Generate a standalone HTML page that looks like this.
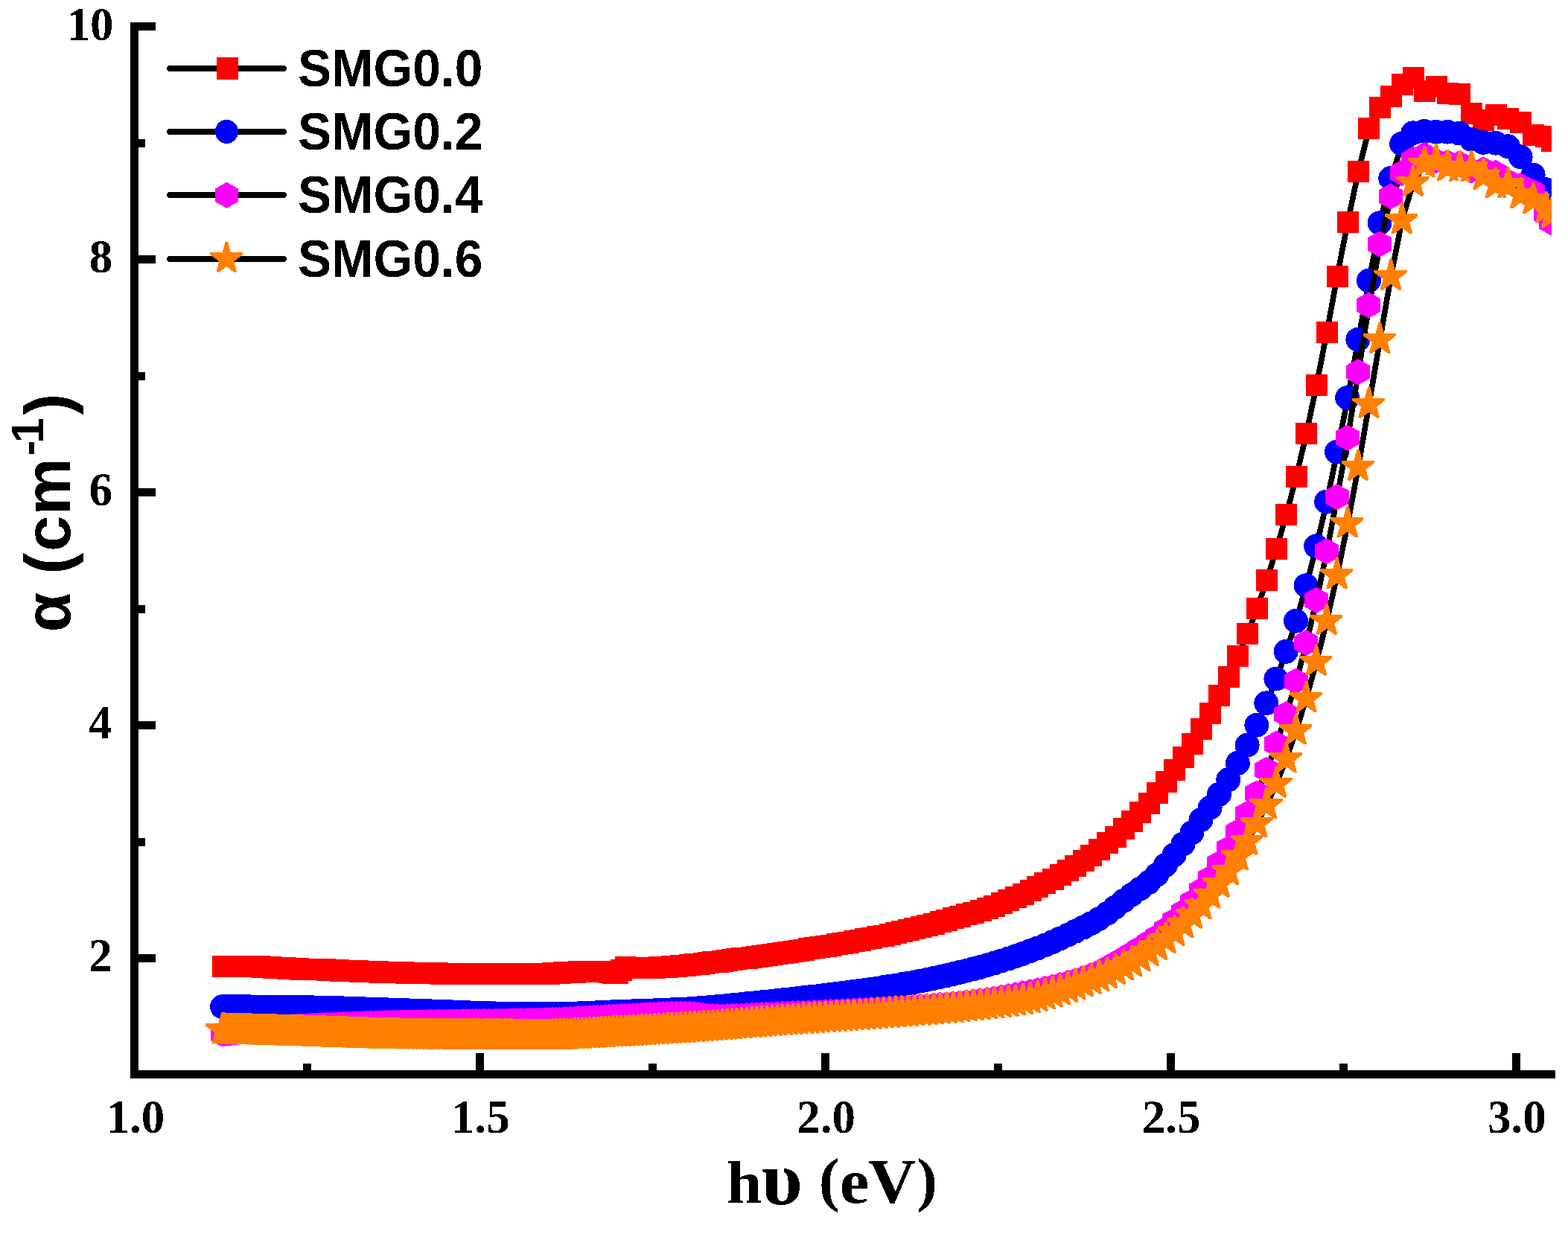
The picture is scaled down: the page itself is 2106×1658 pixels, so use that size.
<!DOCTYPE html>
<html lang="en"><head><meta charset="utf-8"><title>Absorption coefficient vs photon energy</title>
<style>html,body{margin:0;padding:0;background:#fff}body{width:2106px;height:1658px;overflow:hidden}svg{display:block}text{fill:#000;font-weight:bold;filter:url(#t)}.tk{font-family:"Liberation Serif","DejaVu Serif",serif;font-size:63px}.xt{font-family:"Liberation Serif","DejaVu Serif",serif;font-size:85px}.yt{font-family:"Liberation Sans","DejaVu Sans",sans-serif;font-size:87px}.lg{font-family:"Liberation Sans","DejaVu Sans",sans-serif;font-size:71.3px}</style></head><body>
<svg width="2106" height="1658" viewBox="0 0 2106 1658">
<rect width="2106" height="1658" fill="#fff"/>
<clipPath id="c"><rect x="180.5" y="30" width="1903.4" height="1414"/></clipPath>
<filter id="t" x="-5%" y="-20%" width="110%" height="140%" color-interpolation-filters="sRGB"><feComponentTransfer><feFuncA type="discrete" tableValues="0 1"/></feComponentTransfer></filter>
<g clip-path="url(#c)" shape-rendering="crispEdges">
<path d="M299.1 1298.5L301.5 1298.5L303.9 1298.5L306.3 1298.5L308.7 1298.5L311.1 1298.5L313.6 1298.5L316 1298.5L318.5 1298.5L321 1298.5L323.4 1298.5L325.9 1298.5L328.4 1298.5L331 1298.5L333.5 1298.5L336 1298.5L338.6 1298.5L341.2 1298.5L343.7 1298.5L346.3 1298.6L348.9 1298.8L351.5 1299L354.2 1299.3L356.8 1299.5L359.5 1299.7L362.1 1299.8L364.8 1299.9L367.5 1300L370.2 1300.1L372.9 1300.2L375.7 1300.4L378.4 1300.5L381.2 1300.6L383.9 1300.8L386.7 1301L389.5 1301.2L392.3 1301.4L395.2 1301.5L398 1301.7L400.9 1301.9L403.7 1302L406.6 1302L409.5 1302.1L412.4 1302.2L415.3 1302.2L418.3 1302.3L421.2 1302.3L424.2 1302.4L427.2 1302.5L430.2 1302.6L433.2 1302.7L436.3 1302.9L439.3 1303.1L442.4 1303.3L445.5 1303.5L448.6 1303.6L451.7 1303.7L454.8 1303.9L457.9 1304L461.1 1304.1L464.3 1304.3L467.5 1304.4L470.7 1304.5L473.9 1304.7L477.2 1304.8L480.4 1304.9L483.7 1305L487 1305.2L490.3 1305.3L493.7 1305.4L497 1305.5L500.4 1305.6L503.8 1305.7L507.2 1305.9L510.6 1306L514.1 1306.1L517.5 1306.2L521 1306.3L524.5 1306.4L528 1306.5L531.6 1306.6L535.1 1306.7L538.7 1306.8L542.3 1306.9L545.9 1307L549.6 1307.1L553.2 1307.1L556.9 1307.2L560.6 1307.3L564.4 1307.4L568.1 1307.5L571.9 1307.6L575.7 1307.7L579.5 1307.8L583.3 1307.8L587.2 1307.9L591 1308L594.9 1308L598.9 1308.1L602.8 1308.1L606.8 1308.1L610.8 1308.1L614.8 1308.1L618.8 1308.1L622.9 1308.1L627 1308.1L631.1 1308.1L635.2 1308.1L639.4 1308.1L643.6 1308.1L647.8 1308.1L652.1 1308.1L656.3 1308.1L660.6 1308.1L664.9 1308.1L669.3 1308.1L673.6 1308.1L678 1308.1L682.5 1308.1L686.9 1308.1L691.4 1308.1L695.9 1308.1L700.4 1308.1L705 1308.1L709.6 1308.1L714.2 1308.1L718.9 1308.1L723.6 1308.1L728.3 1308.1L733 1308.1L737.8 1308L742.6 1307.8L747.4 1307.5L752.3 1307.2L757.2 1306.9L762.1 1306.5L767.1 1306.3L772.1 1306L777.1 1305.9L782.2 1305.8L787.3 1305.7L792.4 1305.7L797.6 1305.6L802.8 1305.6L808 1305.5L813.3 1305.5L818.6 1306.1L823.9 1307.3L829.3 1307.3L834.7 1303.6L840.2 1299.4L845.7 1300.5L851.2 1300.5L856.8 1300.4L862.4 1300.4L868 1300.3L873.7 1300.1L879.5 1300L885.2 1299.8L891 1299.5L896.9 1299.1L902.8 1298.6L908.7 1298L914.7 1297.5L920.7 1297L926.8 1296.4L932.9 1295.8L939 1295L945.2 1294.4L951.5 1293.7L957.8 1292.9L964.1 1292.2L970.5 1291.3L976.9 1290.5L983.4 1289.7L989.9 1288.8L996.5 1287.9L1003.1 1287L1009.8 1286L1016.6 1285.1L1023.3 1284.2L1030.2 1283.2L1037.1 1282.3L1044 1281.3L1051 1280.3L1058.1 1279.3L1065.2 1278.2L1072.3 1277.1L1079.5 1276L1086.8 1274.9L1094.2 1273.7L1101.5 1272.5L1109 1271.1L1116.5 1270L1124.1 1268.7L1131.7 1267.4L1139.4 1266.1L1147.2 1264.7L1155 1263.3L1162.9 1261.8L1170.9 1260.3L1178.9 1258.7L1187 1257L1195.1 1255.2L1203.4 1253.4L1211.7 1251.5L1220 1249.5L1228.5 1247.5L1237 1245.4L1245.6 1243.2L1254.3 1241L1263 1238.7L1271.8 1236.3L1280.7 1233.8L1289.7 1231.3L1298.7 1228.3L1307.9 1226L1317.1 1223.2L1326.4 1220.2L1335.8 1217L1345.2 1213.3L1354.8 1209.7L1364.4 1205.6L1374.1 1201.2L1384 1196.5L1393.9 1191.9L1403.9 1186.5L1414 1181.2L1424.2 1175.5L1434.5 1169.6L1444.8 1163.4L1455.3 1156.9L1465.9 1149.6L1476.6 1141.6L1487.4 1132.9L1498.3 1124.7L1509.3 1113.3L1520.4 1103.4L1531.7 1091.6L1543 1079.6L1554.4 1065.7L1566 1050.8L1577.7 1034.8L1589.5 1017.6L1601.4 999.7L1613.5 979.8L1625.6 958.8L1637.9 934.8L1650.3 909.7L1662.9 881.7L1675.6 851.6L1688.4 817.6L1701.3 779.5L1714.4 737.9L1727.7 691.6L1741 640.6L1754.6 582.7L1768.2 517.5L1782.1 446.5L1796 371.3L1810.2 298.4L1824.4 230.6L1838.9 172.4L1853.5 144.4L1868.3 129.5L1883.2 113.7L1898.3 104.5L1913.6 122.2L1929.1 116.6L1944.7 125.6L1960.6 126.5L1976.6 152.5L1992.8 161.2L2009.2 154.3L2025.8 159.5L2042.6 164.5L2059.6 181.5L2076.9 183.5L2084.6 189.4" fill="none" stroke="#000" stroke-width="7.6" stroke-linejoin="round"/>
<path d="M284.6 1284h29v29h-29zM287 1284h29v29h-29zM289.4 1284h29v29h-29zM291.8 1284h29v29h-29zM294.2 1284h29v29h-29zM296.6 1284h29v29h-29zM299.1 1284h29v29h-29zM301.5 1284h29v29h-29zM304 1284h29v29h-29zM306.5 1284h29v29h-29zM308.9 1284h29v29h-29zM311.4 1284h29v29h-29zM313.9 1284h29v29h-29zM316.5 1284h29v29h-29zM319 1284h29v29h-29zM321.5 1284h29v29h-29zM324.1 1284h29v29h-29zM326.7 1284h29v29h-29zM329.2 1284h29v29h-29zM331.8 1284.1h29v29h-29zM334.4 1284.3h29v29h-29zM337 1284.5h29v29h-29zM339.7 1284.8h29v29h-29zM342.3 1285h29v29h-29zM345 1285.2h29v29h-29zM347.6 1285.3h29v29h-29zM350.3 1285.4h29v29h-29zM353 1285.5h29v29h-29zM355.7 1285.6h29v29h-29zM358.4 1285.7h29v29h-29zM361.2 1285.9h29v29h-29zM363.9 1286h29v29h-29zM366.7 1286.1h29v29h-29zM369.4 1286.3h29v29h-29zM372.2 1286.5h29v29h-29zM375 1286.7h29v29h-29zM377.8 1286.9h29v29h-29zM380.7 1287h29v29h-29zM383.5 1287.2h29v29h-29zM386.4 1287.4h29v29h-29zM389.2 1287.5h29v29h-29zM392.1 1287.5h29v29h-29zM395 1287.6h29v29h-29zM397.9 1287.7h29v29h-29zM400.8 1287.7h29v29h-29zM403.8 1287.8h29v29h-29zM406.7 1287.8h29v29h-29zM409.7 1287.9h29v29h-29zM412.7 1288h29v29h-29zM415.7 1288.1h29v29h-29zM418.7 1288.2h29v29h-29zM421.8 1288.4h29v29h-29zM424.8 1288.6h29v29h-29zM427.9 1288.8h29v29h-29zM431 1289h29v29h-29zM434.1 1289.1h29v29h-29zM437.2 1289.2h29v29h-29zM440.3 1289.4h29v29h-29zM443.4 1289.5h29v29h-29zM446.6 1289.6h29v29h-29zM449.8 1289.8h29v29h-29zM453 1289.9h29v29h-29zM456.2 1290h29v29h-29zM459.4 1290.2h29v29h-29zM462.7 1290.3h29v29h-29zM465.9 1290.4h29v29h-29zM469.2 1290.5h29v29h-29zM472.5 1290.7h29v29h-29zM475.8 1290.8h29v29h-29zM479.2 1290.9h29v29h-29zM482.5 1291h29v29h-29zM485.9 1291.1h29v29h-29zM489.3 1291.2h29v29h-29zM492.7 1291.4h29v29h-29zM496.1 1291.5h29v29h-29zM499.6 1291.6h29v29h-29zM503 1291.7h29v29h-29zM506.5 1291.8h29v29h-29zM510 1291.9h29v29h-29zM513.5 1292h29v29h-29zM517.1 1292.1h29v29h-29zM520.6 1292.2h29v29h-29zM524.2 1292.3h29v29h-29zM527.8 1292.4h29v29h-29zM531.4 1292.5h29v29h-29zM535.1 1292.6h29v29h-29zM538.7 1292.6h29v29h-29zM542.4 1292.7h29v29h-29zM546.1 1292.8h29v29h-29zM549.9 1292.9h29v29h-29zM553.6 1293h29v29h-29zM557.4 1293.1h29v29h-29zM561.2 1293.2h29v29h-29zM565 1293.3h29v29h-29zM568.8 1293.3h29v29h-29zM572.7 1293.4h29v29h-29zM576.5 1293.5h29v29h-29zM580.4 1293.5h29v29h-29zM584.4 1293.6h29v29h-29zM588.3 1293.6h29v29h-29zM592.3 1293.6h29v29h-29zM596.3 1293.6h29v29h-29zM600.3 1293.6h29v29h-29zM604.3 1293.6h29v29h-29zM608.4 1293.6h29v29h-29zM612.5 1293.6h29v29h-29zM616.6 1293.6h29v29h-29zM620.7 1293.6h29v29h-29zM624.9 1293.6h29v29h-29zM629.1 1293.6h29v29h-29zM633.3 1293.6h29v29h-29zM637.6 1293.6h29v29h-29zM641.8 1293.6h29v29h-29zM646.1 1293.6h29v29h-29zM650.4 1293.6h29v29h-29zM654.8 1293.6h29v29h-29zM659.1 1293.6h29v29h-29zM663.5 1293.6h29v29h-29zM668 1293.6h29v29h-29zM672.4 1293.6h29v29h-29zM676.9 1293.6h29v29h-29zM681.4 1293.6h29v29h-29zM685.9 1293.6h29v29h-29zM690.5 1293.6h29v29h-29zM695.1 1293.6h29v29h-29zM699.7 1293.6h29v29h-29zM704.4 1293.6h29v29h-29zM709.1 1293.6h29v29h-29zM713.8 1293.6h29v29h-29zM718.5 1293.6h29v29h-29zM723.3 1293.5h29v29h-29zM728.1 1293.3h29v29h-29zM732.9 1293h29v29h-29zM737.8 1292.7h29v29h-29zM742.7 1292.4h29v29h-29zM747.6 1292h29v29h-29zM752.6 1291.8h29v29h-29zM757.6 1291.5h29v29h-29zM762.6 1291.4h29v29h-29zM767.7 1291.3h29v29h-29zM772.8 1291.2h29v29h-29zM777.9 1291.2h29v29h-29zM783.1 1291.1h29v29h-29zM788.3 1291.1h29v29h-29zM793.5 1291h29v29h-29zM798.8 1291h29v29h-29zM804.1 1291.6h29v29h-29zM809.4 1292.8h29v29h-29zM814.8 1292.8h29v29h-29zM820.2 1289.1h29v29h-29zM825.7 1284.9h29v29h-29zM831.2 1286h29v29h-29zM836.7 1286h29v29h-29zM842.3 1285.9h29v29h-29zM847.9 1285.9h29v29h-29zM853.5 1285.8h29v29h-29zM859.2 1285.6h29v29h-29zM865 1285.5h29v29h-29zM870.7 1285.3h29v29h-29zM876.5 1285h29v29h-29zM882.4 1284.6h29v29h-29zM888.3 1284.1h29v29h-29zM894.2 1283.5h29v29h-29zM900.2 1283h29v29h-29zM906.2 1282.5h29v29h-29zM912.3 1281.9h29v29h-29zM918.4 1281.3h29v29h-29zM924.5 1280.5h29v29h-29zM930.7 1279.9h29v29h-29zM937 1279.2h29v29h-29zM943.3 1278.4h29v29h-29zM949.6 1277.7h29v29h-29zM956 1276.8h29v29h-29zM962.4 1276h29v29h-29zM968.9 1275.2h29v29h-29zM975.4 1274.3h29v29h-29zM982 1273.4h29v29h-29zM988.6 1272.5h29v29h-29zM995.3 1271.5h29v29h-29zM1002.1 1270.6h29v29h-29zM1008.8 1269.7h29v29h-29zM1015.7 1268.7h29v29h-29zM1022.6 1267.8h29v29h-29zM1029.5 1266.8h29v29h-29zM1036.5 1265.8h29v29h-29zM1043.6 1264.8h29v29h-29zM1050.7 1263.7h29v29h-29zM1057.8 1262.6h29v29h-29zM1065 1261.5h29v29h-29zM1072.3 1260.4h29v29h-29zM1079.7 1259.2h29v29h-29zM1087 1258h29v29h-29zM1094.5 1256.6h29v29h-29zM1102 1255.5h29v29h-29zM1109.6 1254.2h29v29h-29zM1117.2 1252.9h29v29h-29zM1124.9 1251.6h29v29h-29zM1132.7 1250.2h29v29h-29zM1140.5 1248.8h29v29h-29zM1148.4 1247.3h29v29h-29zM1156.4 1245.8h29v29h-29zM1164.4 1244.2h29v29h-29zM1172.5 1242.5h29v29h-29zM1180.6 1240.7h29v29h-29zM1188.9 1238.9h29v29h-29zM1197.2 1237h29v29h-29zM1205.5 1235h29v29h-29zM1214 1233h29v29h-29zM1222.5 1230.9h29v29h-29zM1231.1 1228.7h29v29h-29zM1239.8 1226.5h29v29h-29zM1248.5 1224.2h29v29h-29zM1257.3 1221.8h29v29h-29zM1266.2 1219.3h29v29h-29zM1275.2 1216.8h29v29h-29zM1284.2 1213.8h29v29h-29zM1293.4 1211.5h29v29h-29zM1302.6 1208.7h29v29h-29zM1311.9 1205.7h29v29h-29zM1321.3 1202.5h29v29h-29zM1330.7 1198.8h29v29h-29zM1340.3 1195.2h29v29h-29zM1349.9 1191.1h29v29h-29zM1359.6 1186.7h29v29h-29zM1369.5 1182h29v29h-29zM1379.4 1177.4h29v29h-29zM1389.4 1172h29v29h-29zM1399.5 1166.7h29v29h-29zM1409.7 1161h29v29h-29zM1420 1155.1h29v29h-29zM1430.3 1148.9h29v29h-29zM1440.8 1142.4h29v29h-29zM1451.4 1135.1h29v29h-29zM1462.1 1127.1h29v29h-29zM1472.9 1118.4h29v29h-29zM1483.8 1110.2h29v29h-29zM1494.8 1098.8h29v29h-29zM1505.9 1088.9h29v29h-29zM1517.2 1077.1h29v29h-29zM1528.5 1065.1h29v29h-29zM1539.9 1051.2h29v29h-29zM1551.5 1036.3h29v29h-29zM1563.2 1020.3h29v29h-29zM1575 1003.1h29v29h-29zM1586.9 985.2h29v29h-29zM1599 965.3h29v29h-29zM1611.1 944.3h29v29h-29zM1623.4 920.3h29v29h-29zM1635.8 895.2h29v29h-29zM1648.4 867.2h29v29h-29zM1661.1 837.1h29v29h-29zM1673.9 803.1h29v29h-29zM1686.8 765h29v29h-29zM1699.9 723.4h29v29h-29zM1713.2 677.1h29v29h-29zM1726.5 626.1h29v29h-29zM1740.1 568.2h29v29h-29zM1753.7 503h29v29h-29zM1767.6 432h29v29h-29zM1781.5 356.8h29v29h-29zM1795.7 283.9h29v29h-29zM1809.9 216.1h29v29h-29zM1824.4 157.9h29v29h-29zM1839 129.9h29v29h-29zM1853.8 115h29v29h-29zM1868.7 99.2h29v29h-29zM1883.8 90h29v29h-29zM1899.1 107.7h29v29h-29zM1914.6 102.1h29v29h-29zM1930.2 111.1h29v29h-29zM1946.1 112h29v29h-29zM1962.1 138h29v29h-29zM1978.3 146.7h29v29h-29zM1994.7 139.8h29v29h-29zM2011.3 145h29v29h-29zM2028.1 150h29v29h-29zM2045.1 167h29v29h-29zM2062.4 169h29v29h-29zM2070.1 174.9h29v29h-29z" fill="#ff0000"/>
<path d="M299.1 1352.5L301.5 1352.5L303.9 1352.5L306.3 1352.5L308.7 1352.5L311.1 1352.5L313.6 1352.5L316 1352.5L318.5 1352.5L321 1352.6L323.4 1352.6L325.9 1352.6L328.4 1352.6L331 1352.6L333.5 1352.6L336 1352.6L338.6 1352.7L341.2 1352.7L343.7 1352.7L346.3 1352.7L348.9 1352.7L351.5 1352.8L354.2 1352.8L356.8 1352.8L359.5 1352.8L362.1 1352.9L364.8 1352.9L367.5 1352.9L370.2 1352.9L372.9 1353L375.7 1353L378.4 1353L381.2 1353.1L383.9 1353.1L386.7 1353.1L389.5 1353.2L392.3 1353.2L395.2 1353.2L398 1353.3L400.9 1353.3L403.7 1353.3L406.6 1353.4L409.5 1353.4L412.4 1353.4L415.3 1353.5L418.3 1353.5L421.2 1353.6L424.2 1353.7L427.2 1353.7L430.2 1353.8L433.2 1353.9L436.3 1353.9L439.3 1354L442.4 1354.1L445.5 1354.2L448.6 1354.2L451.7 1354.3L454.8 1354.4L457.9 1354.5L461.1 1354.6L464.3 1354.7L467.5 1354.8L470.7 1354.9L473.9 1355L477.2 1355.1L480.4 1355.2L483.7 1355.3L487 1355.4L490.3 1355.6L493.7 1355.7L497 1355.8L500.4 1355.9L503.8 1356L507.2 1356.1L510.6 1356.3L514.1 1356.4L517.5 1356.5L521 1356.6L524.5 1356.7L528 1356.9L531.6 1357L535.1 1357.1L538.7 1357.2L542.3 1357.3L545.9 1357.5L549.6 1357.6L553.2 1357.7L556.9 1357.8L560.6 1357.9L564.4 1358L568.1 1358.2L571.9 1358.3L575.7 1358.4L579.5 1358.6L583.3 1358.7L587.2 1358.8L591 1359L594.9 1359.2L598.9 1359.3L602.8 1359.5L606.8 1359.6L610.8 1359.8L614.8 1360L618.8 1360.1L622.9 1360.3L627 1360.4L631.1 1360.6L635.2 1360.7L639.4 1360.9L643.6 1361L647.8 1361.1L652.1 1361.3L656.3 1361.4L660.6 1361.5L664.9 1361.6L669.3 1361.7L673.6 1361.8L678 1361.8L682.5 1361.9L686.9 1361.9L691.4 1361.9L695.9 1361.9L700.4 1361.9L705 1361.9L709.6 1361.9L714.2 1361.9L718.9 1361.9L723.6 1361.9L728.3 1361.9L733 1361.9L737.8 1361.9L742.6 1361.9L747.4 1361.9L752.3 1361.9L757.2 1361.9L762.1 1361.9L767.1 1361.8L772.1 1361.7L777.1 1361.6L782.2 1361.4L787.3 1361.2L792.4 1360.9L797.6 1360.7L802.8 1360.4L808 1360.2L813.3 1359.9L818.6 1359.7L823.9 1359.4L829.3 1359.2L834.7 1359L840.2 1358.8L845.7 1358.7L851.2 1358.5L856.8 1358.3L862.4 1358.1L868 1357.9L873.7 1357.7L879.5 1357.5L885.2 1357.3L891 1357L896.9 1356.8L902.8 1356.5L908.7 1356.3L914.7 1356L920.7 1355.7L926.8 1355.3L932.9 1354.9L939 1354.5L945.2 1354L951.5 1353.5L957.8 1352.9L964.1 1352.3L970.5 1351.7L976.9 1351.1L983.4 1350.5L989.9 1349.8L996.5 1349.2L1003.1 1348.5L1009.8 1347.8L1016.6 1347.1L1023.3 1346.5L1030.2 1345.8L1037.1 1345.1L1044 1344.3L1051 1343.6L1058.1 1342.8L1065.2 1342.1L1072.3 1341.3L1079.5 1340.4L1086.8 1339.6L1094.2 1338.7L1101.5 1337.8L1109 1336.8L1116.5 1336L1124.1 1335.1L1131.7 1334.1L1139.4 1333.1L1147.2 1332.1L1155 1331.1L1162.9 1330L1170.9 1328.8L1178.9 1327.7L1187 1326.4L1195.1 1325.1L1203.4 1323.8L1211.7 1322.4L1220 1321L1228.5 1319.5L1237 1317.8L1245.6 1316.1L1254.3 1314.3L1263 1312.5L1271.8 1310.5L1280.7 1308.5L1289.7 1306.2L1298.7 1304L1307.9 1301.6L1317.1 1299.2L1326.4 1296.5L1335.8 1293.8L1345.2 1290.9L1354.8 1287.8L1364.4 1284.6L1374.1 1281.2L1384 1277.5L1393.9 1273.8L1403.9 1269.7L1414 1265.5L1424.2 1260.9L1434.5 1256.1L1444.8 1251.1L1455.3 1246L1465.9 1240.5L1476.6 1234.5L1487.4 1227.2L1498.3 1218.9L1509.3 1210.2L1520.4 1202L1531.7 1194L1543 1185.6L1554.4 1175L1566 1162.1L1577.7 1148.3L1589.5 1133.8L1601.4 1118.7L1613.5 1101.4L1625.6 1085L1637.9 1067.1L1650.3 1047.4L1662.9 1025.2L1675.6 1001L1688.4 974L1701.3 944.5L1714.4 911.9L1727.7 875.2L1741 834.1L1754.6 786.5L1768.2 733.6L1782.1 674L1796 607.1L1810.2 534.2L1824.4 456L1838.9 376.8L1853.5 299.5L1868.3 239.3L1883.2 193L1898.3 178.5L1913.6 176.3L1929.1 177L1944.7 177L1960.6 178.9L1976.6 187L1992.8 191.2L2009.2 192L2025.8 196.4L2042.6 210.5L2059.6 234.8L2076.9 254.4L2084.6 262" fill="none" stroke="#000" stroke-width="7.6" stroke-linejoin="round"/>
<path d="M282.1 1352.7a16.5 16.4 0 1 0 33 0a16.5 16.4 0 1 0 -33 0zM284.5 1352.7a16.5 16.4 0 1 0 33 0a16.5 16.4 0 1 0 -33 0zM286.9 1352.7a16.5 16.4 0 1 0 33 0a16.5 16.4 0 1 0 -33 0zM289.3 1352.7a16.5 16.4 0 1 0 33 0a16.5 16.4 0 1 0 -33 0zM291.7 1352.7a16.5 16.4 0 1 0 33 0a16.5 16.4 0 1 0 -33 0zM294.1 1352.7a16.5 16.4 0 1 0 33 0a16.5 16.4 0 1 0 -33 0zM296.6 1352.7a16.5 16.4 0 1 0 33 0a16.5 16.4 0 1 0 -33 0zM299 1352.7a16.5 16.4 0 1 0 33 0a16.5 16.4 0 1 0 -33 0zM301.5 1352.7a16.5 16.4 0 1 0 33 0a16.5 16.4 0 1 0 -33 0zM304 1352.8a16.5 16.4 0 1 0 33 0a16.5 16.4 0 1 0 -33 0zM306.4 1352.8a16.5 16.4 0 1 0 33 0a16.5 16.4 0 1 0 -33 0zM308.9 1352.8a16.5 16.4 0 1 0 33 0a16.5 16.4 0 1 0 -33 0zM311.4 1352.8a16.5 16.4 0 1 0 33 0a16.5 16.4 0 1 0 -33 0zM314 1352.8a16.5 16.4 0 1 0 33 0a16.5 16.4 0 1 0 -33 0zM316.5 1352.8a16.5 16.4 0 1 0 33 0a16.5 16.4 0 1 0 -33 0zM319 1352.8a16.5 16.4 0 1 0 33 0a16.5 16.4 0 1 0 -33 0zM321.6 1352.9a16.5 16.4 0 1 0 33 0a16.5 16.4 0 1 0 -33 0zM324.2 1352.9a16.5 16.4 0 1 0 33 0a16.5 16.4 0 1 0 -33 0zM326.7 1352.9a16.5 16.4 0 1 0 33 0a16.5 16.4 0 1 0 -33 0zM329.3 1352.9a16.5 16.4 0 1 0 33 0a16.5 16.4 0 1 0 -33 0zM331.9 1352.9a16.5 16.4 0 1 0 33 0a16.5 16.4 0 1 0 -33 0zM334.5 1353a16.5 16.4 0 1 0 33 0a16.5 16.4 0 1 0 -33 0zM337.2 1353a16.5 16.4 0 1 0 33 0a16.5 16.4 0 1 0 -33 0zM339.8 1353a16.5 16.4 0 1 0 33 0a16.5 16.4 0 1 0 -33 0zM342.5 1353a16.5 16.4 0 1 0 33 0a16.5 16.4 0 1 0 -33 0zM345.1 1353.1a16.5 16.4 0 1 0 33 0a16.5 16.4 0 1 0 -33 0zM347.8 1353.1a16.5 16.4 0 1 0 33 0a16.5 16.4 0 1 0 -33 0zM350.5 1353.1a16.5 16.4 0 1 0 33 0a16.5 16.4 0 1 0 -33 0zM353.2 1353.1a16.5 16.4 0 1 0 33 0a16.5 16.4 0 1 0 -33 0zM355.9 1353.2a16.5 16.4 0 1 0 33 0a16.5 16.4 0 1 0 -33 0zM358.7 1353.2a16.5 16.4 0 1 0 33 0a16.5 16.4 0 1 0 -33 0zM361.4 1353.2a16.5 16.4 0 1 0 33 0a16.5 16.4 0 1 0 -33 0zM364.2 1353.3a16.5 16.4 0 1 0 33 0a16.5 16.4 0 1 0 -33 0zM366.9 1353.3a16.5 16.4 0 1 0 33 0a16.5 16.4 0 1 0 -33 0zM369.7 1353.3a16.5 16.4 0 1 0 33 0a16.5 16.4 0 1 0 -33 0zM372.5 1353.4a16.5 16.4 0 1 0 33 0a16.5 16.4 0 1 0 -33 0zM375.3 1353.4a16.5 16.4 0 1 0 33 0a16.5 16.4 0 1 0 -33 0zM378.2 1353.4a16.5 16.4 0 1 0 33 0a16.5 16.4 0 1 0 -33 0zM381 1353.5a16.5 16.4 0 1 0 33 0a16.5 16.4 0 1 0 -33 0zM383.9 1353.5a16.5 16.4 0 1 0 33 0a16.5 16.4 0 1 0 -33 0zM386.7 1353.5a16.5 16.4 0 1 0 33 0a16.5 16.4 0 1 0 -33 0zM389.6 1353.6a16.5 16.4 0 1 0 33 0a16.5 16.4 0 1 0 -33 0zM392.5 1353.6a16.5 16.4 0 1 0 33 0a16.5 16.4 0 1 0 -33 0zM395.4 1353.6a16.5 16.4 0 1 0 33 0a16.5 16.4 0 1 0 -33 0zM398.3 1353.7a16.5 16.4 0 1 0 33 0a16.5 16.4 0 1 0 -33 0zM401.3 1353.7a16.5 16.4 0 1 0 33 0a16.5 16.4 0 1 0 -33 0zM404.2 1353.8a16.5 16.4 0 1 0 33 0a16.5 16.4 0 1 0 -33 0zM407.2 1353.9a16.5 16.4 0 1 0 33 0a16.5 16.4 0 1 0 -33 0zM410.2 1353.9a16.5 16.4 0 1 0 33 0a16.5 16.4 0 1 0 -33 0zM413.2 1354a16.5 16.4 0 1 0 33 0a16.5 16.4 0 1 0 -33 0zM416.2 1354.1a16.5 16.4 0 1 0 33 0a16.5 16.4 0 1 0 -33 0zM419.3 1354.1a16.5 16.4 0 1 0 33 0a16.5 16.4 0 1 0 -33 0zM422.3 1354.2a16.5 16.4 0 1 0 33 0a16.5 16.4 0 1 0 -33 0zM425.4 1354.3a16.5 16.4 0 1 0 33 0a16.5 16.4 0 1 0 -33 0zM428.5 1354.4a16.5 16.4 0 1 0 33 0a16.5 16.4 0 1 0 -33 0zM431.6 1354.4a16.5 16.4 0 1 0 33 0a16.5 16.4 0 1 0 -33 0zM434.7 1354.5a16.5 16.4 0 1 0 33 0a16.5 16.4 0 1 0 -33 0zM437.8 1354.6a16.5 16.4 0 1 0 33 0a16.5 16.4 0 1 0 -33 0zM440.9 1354.7a16.5 16.4 0 1 0 33 0a16.5 16.4 0 1 0 -33 0zM444.1 1354.8a16.5 16.4 0 1 0 33 0a16.5 16.4 0 1 0 -33 0zM447.3 1354.9a16.5 16.4 0 1 0 33 0a16.5 16.4 0 1 0 -33 0zM450.5 1355a16.5 16.4 0 1 0 33 0a16.5 16.4 0 1 0 -33 0zM453.7 1355.1a16.5 16.4 0 1 0 33 0a16.5 16.4 0 1 0 -33 0zM456.9 1355.2a16.5 16.4 0 1 0 33 0a16.5 16.4 0 1 0 -33 0zM460.2 1355.3a16.5 16.4 0 1 0 33 0a16.5 16.4 0 1 0 -33 0zM463.4 1355.4a16.5 16.4 0 1 0 33 0a16.5 16.4 0 1 0 -33 0zM466.7 1355.5a16.5 16.4 0 1 0 33 0a16.5 16.4 0 1 0 -33 0zM470 1355.6a16.5 16.4 0 1 0 33 0a16.5 16.4 0 1 0 -33 0zM473.3 1355.8a16.5 16.4 0 1 0 33 0a16.5 16.4 0 1 0 -33 0zM476.7 1355.9a16.5 16.4 0 1 0 33 0a16.5 16.4 0 1 0 -33 0zM480 1356a16.5 16.4 0 1 0 33 0a16.5 16.4 0 1 0 -33 0zM483.4 1356.1a16.5 16.4 0 1 0 33 0a16.5 16.4 0 1 0 -33 0zM486.8 1356.2a16.5 16.4 0 1 0 33 0a16.5 16.4 0 1 0 -33 0zM490.2 1356.3a16.5 16.4 0 1 0 33 0a16.5 16.4 0 1 0 -33 0zM493.6 1356.5a16.5 16.4 0 1 0 33 0a16.5 16.4 0 1 0 -33 0zM497.1 1356.6a16.5 16.4 0 1 0 33 0a16.5 16.4 0 1 0 -33 0zM500.5 1356.7a16.5 16.4 0 1 0 33 0a16.5 16.4 0 1 0 -33 0zM504 1356.8a16.5 16.4 0 1 0 33 0a16.5 16.4 0 1 0 -33 0zM507.5 1356.9a16.5 16.4 0 1 0 33 0a16.5 16.4 0 1 0 -33 0zM511 1357.1a16.5 16.4 0 1 0 33 0a16.5 16.4 0 1 0 -33 0zM514.6 1357.2a16.5 16.4 0 1 0 33 0a16.5 16.4 0 1 0 -33 0zM518.1 1357.3a16.5 16.4 0 1 0 33 0a16.5 16.4 0 1 0 -33 0zM521.7 1357.4a16.5 16.4 0 1 0 33 0a16.5 16.4 0 1 0 -33 0zM525.3 1357.5a16.5 16.4 0 1 0 33 0a16.5 16.4 0 1 0 -33 0zM528.9 1357.7a16.5 16.4 0 1 0 33 0a16.5 16.4 0 1 0 -33 0zM532.6 1357.8a16.5 16.4 0 1 0 33 0a16.5 16.4 0 1 0 -33 0zM536.2 1357.9a16.5 16.4 0 1 0 33 0a16.5 16.4 0 1 0 -33 0zM539.9 1358a16.5 16.4 0 1 0 33 0a16.5 16.4 0 1 0 -33 0zM543.6 1358.1a16.5 16.4 0 1 0 33 0a16.5 16.4 0 1 0 -33 0zM547.4 1358.2a16.5 16.4 0 1 0 33 0a16.5 16.4 0 1 0 -33 0zM551.1 1358.4a16.5 16.4 0 1 0 33 0a16.5 16.4 0 1 0 -33 0zM554.9 1358.5a16.5 16.4 0 1 0 33 0a16.5 16.4 0 1 0 -33 0zM558.7 1358.6a16.5 16.4 0 1 0 33 0a16.5 16.4 0 1 0 -33 0zM562.5 1358.8a16.5 16.4 0 1 0 33 0a16.5 16.4 0 1 0 -33 0zM566.3 1358.9a16.5 16.4 0 1 0 33 0a16.5 16.4 0 1 0 -33 0zM570.2 1359a16.5 16.4 0 1 0 33 0a16.5 16.4 0 1 0 -33 0zM574 1359.2a16.5 16.4 0 1 0 33 0a16.5 16.4 0 1 0 -33 0zM577.9 1359.4a16.5 16.4 0 1 0 33 0a16.5 16.4 0 1 0 -33 0zM581.9 1359.5a16.5 16.4 0 1 0 33 0a16.5 16.4 0 1 0 -33 0zM585.8 1359.7a16.5 16.4 0 1 0 33 0a16.5 16.4 0 1 0 -33 0zM589.8 1359.8a16.5 16.4 0 1 0 33 0a16.5 16.4 0 1 0 -33 0zM593.8 1360a16.5 16.4 0 1 0 33 0a16.5 16.4 0 1 0 -33 0zM597.8 1360.2a16.5 16.4 0 1 0 33 0a16.5 16.4 0 1 0 -33 0zM601.8 1360.3a16.5 16.4 0 1 0 33 0a16.5 16.4 0 1 0 -33 0zM605.9 1360.5a16.5 16.4 0 1 0 33 0a16.5 16.4 0 1 0 -33 0zM610 1360.6a16.5 16.4 0 1 0 33 0a16.5 16.4 0 1 0 -33 0zM614.1 1360.8a16.5 16.4 0 1 0 33 0a16.5 16.4 0 1 0 -33 0zM618.2 1360.9a16.5 16.4 0 1 0 33 0a16.5 16.4 0 1 0 -33 0zM622.4 1361.1a16.5 16.4 0 1 0 33 0a16.5 16.4 0 1 0 -33 0zM626.6 1361.2a16.5 16.4 0 1 0 33 0a16.5 16.4 0 1 0 -33 0zM630.8 1361.3a16.5 16.4 0 1 0 33 0a16.5 16.4 0 1 0 -33 0zM635.1 1361.5a16.5 16.4 0 1 0 33 0a16.5 16.4 0 1 0 -33 0zM639.3 1361.6a16.5 16.4 0 1 0 33 0a16.5 16.4 0 1 0 -33 0zM643.6 1361.7a16.5 16.4 0 1 0 33 0a16.5 16.4 0 1 0 -33 0zM647.9 1361.8a16.5 16.4 0 1 0 33 0a16.5 16.4 0 1 0 -33 0zM652.3 1361.9a16.5 16.4 0 1 0 33 0a16.5 16.4 0 1 0 -33 0zM656.6 1362a16.5 16.4 0 1 0 33 0a16.5 16.4 0 1 0 -33 0zM661 1362a16.5 16.4 0 1 0 33 0a16.5 16.4 0 1 0 -33 0zM665.5 1362.1a16.5 16.4 0 1 0 33 0a16.5 16.4 0 1 0 -33 0zM669.9 1362.1a16.5 16.4 0 1 0 33 0a16.5 16.4 0 1 0 -33 0zM674.4 1362.1a16.5 16.4 0 1 0 33 0a16.5 16.4 0 1 0 -33 0zM678.9 1362.1a16.5 16.4 0 1 0 33 0a16.5 16.4 0 1 0 -33 0zM683.4 1362.1a16.5 16.4 0 1 0 33 0a16.5 16.4 0 1 0 -33 0zM688 1362.1a16.5 16.4 0 1 0 33 0a16.5 16.4 0 1 0 -33 0zM692.6 1362.1a16.5 16.4 0 1 0 33 0a16.5 16.4 0 1 0 -33 0zM697.2 1362.1a16.5 16.4 0 1 0 33 0a16.5 16.4 0 1 0 -33 0zM701.9 1362.1a16.5 16.4 0 1 0 33 0a16.5 16.4 0 1 0 -33 0zM706.6 1362.1a16.5 16.4 0 1 0 33 0a16.5 16.4 0 1 0 -33 0zM711.3 1362.1a16.5 16.4 0 1 0 33 0a16.5 16.4 0 1 0 -33 0zM716 1362.1a16.5 16.4 0 1 0 33 0a16.5 16.4 0 1 0 -33 0zM720.8 1362.1a16.5 16.4 0 1 0 33 0a16.5 16.4 0 1 0 -33 0zM725.6 1362.1a16.5 16.4 0 1 0 33 0a16.5 16.4 0 1 0 -33 0zM730.4 1362.1a16.5 16.4 0 1 0 33 0a16.5 16.4 0 1 0 -33 0zM735.3 1362.1a16.5 16.4 0 1 0 33 0a16.5 16.4 0 1 0 -33 0zM740.2 1362.1a16.5 16.4 0 1 0 33 0a16.5 16.4 0 1 0 -33 0zM745.1 1362.1a16.5 16.4 0 1 0 33 0a16.5 16.4 0 1 0 -33 0zM750.1 1362a16.5 16.4 0 1 0 33 0a16.5 16.4 0 1 0 -33 0zM755.1 1361.9a16.5 16.4 0 1 0 33 0a16.5 16.4 0 1 0 -33 0zM760.1 1361.8a16.5 16.4 0 1 0 33 0a16.5 16.4 0 1 0 -33 0zM765.2 1361.6a16.5 16.4 0 1 0 33 0a16.5 16.4 0 1 0 -33 0zM770.3 1361.4a16.5 16.4 0 1 0 33 0a16.5 16.4 0 1 0 -33 0zM775.4 1361.1a16.5 16.4 0 1 0 33 0a16.5 16.4 0 1 0 -33 0zM780.6 1360.9a16.5 16.4 0 1 0 33 0a16.5 16.4 0 1 0 -33 0zM785.8 1360.6a16.5 16.4 0 1 0 33 0a16.5 16.4 0 1 0 -33 0zM791 1360.4a16.5 16.4 0 1 0 33 0a16.5 16.4 0 1 0 -33 0zM796.3 1360.1a16.5 16.4 0 1 0 33 0a16.5 16.4 0 1 0 -33 0zM801.6 1359.9a16.5 16.4 0 1 0 33 0a16.5 16.4 0 1 0 -33 0zM806.9 1359.6a16.5 16.4 0 1 0 33 0a16.5 16.4 0 1 0 -33 0zM812.3 1359.4a16.5 16.4 0 1 0 33 0a16.5 16.4 0 1 0 -33 0zM817.7 1359.2a16.5 16.4 0 1 0 33 0a16.5 16.4 0 1 0 -33 0zM823.2 1359a16.5 16.4 0 1 0 33 0a16.5 16.4 0 1 0 -33 0zM828.7 1358.9a16.5 16.4 0 1 0 33 0a16.5 16.4 0 1 0 -33 0zM834.2 1358.7a16.5 16.4 0 1 0 33 0a16.5 16.4 0 1 0 -33 0zM839.8 1358.5a16.5 16.4 0 1 0 33 0a16.5 16.4 0 1 0 -33 0zM845.4 1358.3a16.5 16.4 0 1 0 33 0a16.5 16.4 0 1 0 -33 0zM851 1358.1a16.5 16.4 0 1 0 33 0a16.5 16.4 0 1 0 -33 0zM856.7 1357.9a16.5 16.4 0 1 0 33 0a16.5 16.4 0 1 0 -33 0zM862.5 1357.7a16.5 16.4 0 1 0 33 0a16.5 16.4 0 1 0 -33 0zM868.2 1357.5a16.5 16.4 0 1 0 33 0a16.5 16.4 0 1 0 -33 0zM874 1357.2a16.5 16.4 0 1 0 33 0a16.5 16.4 0 1 0 -33 0zM879.9 1357a16.5 16.4 0 1 0 33 0a16.5 16.4 0 1 0 -33 0zM885.8 1356.7a16.5 16.4 0 1 0 33 0a16.5 16.4 0 1 0 -33 0zM891.7 1356.5a16.5 16.4 0 1 0 33 0a16.5 16.4 0 1 0 -33 0zM897.7 1356.2a16.5 16.4 0 1 0 33 0a16.5 16.4 0 1 0 -33 0zM903.7 1355.9a16.5 16.4 0 1 0 33 0a16.5 16.4 0 1 0 -33 0zM909.8 1355.5a16.5 16.4 0 1 0 33 0a16.5 16.4 0 1 0 -33 0zM915.9 1355.1a16.5 16.4 0 1 0 33 0a16.5 16.4 0 1 0 -33 0zM922 1354.7a16.5 16.4 0 1 0 33 0a16.5 16.4 0 1 0 -33 0zM928.2 1354.2a16.5 16.4 0 1 0 33 0a16.5 16.4 0 1 0 -33 0zM934.5 1353.7a16.5 16.4 0 1 0 33 0a16.5 16.4 0 1 0 -33 0zM940.8 1353.1a16.5 16.4 0 1 0 33 0a16.5 16.4 0 1 0 -33 0zM947.1 1352.5a16.5 16.4 0 1 0 33 0a16.5 16.4 0 1 0 -33 0zM953.5 1351.9a16.5 16.4 0 1 0 33 0a16.5 16.4 0 1 0 -33 0zM959.9 1351.3a16.5 16.4 0 1 0 33 0a16.5 16.4 0 1 0 -33 0zM966.4 1350.7a16.5 16.4 0 1 0 33 0a16.5 16.4 0 1 0 -33 0zM972.9 1350a16.5 16.4 0 1 0 33 0a16.5 16.4 0 1 0 -33 0zM979.5 1349.4a16.5 16.4 0 1 0 33 0a16.5 16.4 0 1 0 -33 0zM986.1 1348.7a16.5 16.4 0 1 0 33 0a16.5 16.4 0 1 0 -33 0zM992.8 1348a16.5 16.4 0 1 0 33 0a16.5 16.4 0 1 0 -33 0zM999.6 1347.3a16.5 16.4 0 1 0 33 0a16.5 16.4 0 1 0 -33 0zM1006.3 1346.7a16.5 16.4 0 1 0 33 0a16.5 16.4 0 1 0 -33 0zM1013.2 1346a16.5 16.4 0 1 0 33 0a16.5 16.4 0 1 0 -33 0zM1020.1 1345.3a16.5 16.4 0 1 0 33 0a16.5 16.4 0 1 0 -33 0zM1027 1344.5a16.5 16.4 0 1 0 33 0a16.5 16.4 0 1 0 -33 0zM1034 1343.8a16.5 16.4 0 1 0 33 0a16.5 16.4 0 1 0 -33 0zM1041.1 1343a16.5 16.4 0 1 0 33 0a16.5 16.4 0 1 0 -33 0zM1048.2 1342.3a16.5 16.4 0 1 0 33 0a16.5 16.4 0 1 0 -33 0zM1055.3 1341.5a16.5 16.4 0 1 0 33 0a16.5 16.4 0 1 0 -33 0zM1062.5 1340.6a16.5 16.4 0 1 0 33 0a16.5 16.4 0 1 0 -33 0zM1069.8 1339.8a16.5 16.4 0 1 0 33 0a16.5 16.4 0 1 0 -33 0zM1077.2 1338.9a16.5 16.4 0 1 0 33 0a16.5 16.4 0 1 0 -33 0zM1084.5 1338a16.5 16.4 0 1 0 33 0a16.5 16.4 0 1 0 -33 0zM1092 1337a16.5 16.4 0 1 0 33 0a16.5 16.4 0 1 0 -33 0zM1099.5 1336.2a16.5 16.4 0 1 0 33 0a16.5 16.4 0 1 0 -33 0zM1107.1 1335.3a16.5 16.4 0 1 0 33 0a16.5 16.4 0 1 0 -33 0zM1114.7 1334.3a16.5 16.4 0 1 0 33 0a16.5 16.4 0 1 0 -33 0zM1122.4 1333.3a16.5 16.4 0 1 0 33 0a16.5 16.4 0 1 0 -33 0zM1130.2 1332.3a16.5 16.4 0 1 0 33 0a16.5 16.4 0 1 0 -33 0zM1138 1331.3a16.5 16.4 0 1 0 33 0a16.5 16.4 0 1 0 -33 0zM1145.9 1330.2a16.5 16.4 0 1 0 33 0a16.5 16.4 0 1 0 -33 0zM1153.9 1329a16.5 16.4 0 1 0 33 0a16.5 16.4 0 1 0 -33 0zM1161.9 1327.9a16.5 16.4 0 1 0 33 0a16.5 16.4 0 1 0 -33 0zM1170 1326.6a16.5 16.4 0 1 0 33 0a16.5 16.4 0 1 0 -33 0zM1178.1 1325.3a16.5 16.4 0 1 0 33 0a16.5 16.4 0 1 0 -33 0zM1186.4 1324a16.5 16.4 0 1 0 33 0a16.5 16.4 0 1 0 -33 0zM1194.7 1322.6a16.5 16.4 0 1 0 33 0a16.5 16.4 0 1 0 -33 0zM1203 1321.2a16.5 16.4 0 1 0 33 0a16.5 16.4 0 1 0 -33 0zM1211.5 1319.7a16.5 16.4 0 1 0 33 0a16.5 16.4 0 1 0 -33 0zM1220 1318a16.5 16.4 0 1 0 33 0a16.5 16.4 0 1 0 -33 0zM1228.6 1316.3a16.5 16.4 0 1 0 33 0a16.5 16.4 0 1 0 -33 0zM1237.3 1314.5a16.5 16.4 0 1 0 33 0a16.5 16.4 0 1 0 -33 0zM1246 1312.7a16.5 16.4 0 1 0 33 0a16.5 16.4 0 1 0 -33 0zM1254.8 1310.7a16.5 16.4 0 1 0 33 0a16.5 16.4 0 1 0 -33 0zM1263.7 1308.7a16.5 16.4 0 1 0 33 0a16.5 16.4 0 1 0 -33 0zM1272.7 1306.4a16.5 16.4 0 1 0 33 0a16.5 16.4 0 1 0 -33 0zM1281.7 1304.2a16.5 16.4 0 1 0 33 0a16.5 16.4 0 1 0 -33 0zM1290.9 1301.8a16.5 16.4 0 1 0 33 0a16.5 16.4 0 1 0 -33 0zM1300.1 1299.4a16.5 16.4 0 1 0 33 0a16.5 16.4 0 1 0 -33 0zM1309.4 1296.7a16.5 16.4 0 1 0 33 0a16.5 16.4 0 1 0 -33 0zM1318.8 1294a16.5 16.4 0 1 0 33 0a16.5 16.4 0 1 0 -33 0zM1328.2 1291.1a16.5 16.4 0 1 0 33 0a16.5 16.4 0 1 0 -33 0zM1337.8 1288a16.5 16.4 0 1 0 33 0a16.5 16.4 0 1 0 -33 0zM1347.4 1284.8a16.5 16.4 0 1 0 33 0a16.5 16.4 0 1 0 -33 0zM1357.1 1281.4a16.5 16.4 0 1 0 33 0a16.5 16.4 0 1 0 -33 0zM1367 1277.7a16.5 16.4 0 1 0 33 0a16.5 16.4 0 1 0 -33 0zM1376.9 1274a16.5 16.4 0 1 0 33 0a16.5 16.4 0 1 0 -33 0zM1386.9 1269.9a16.5 16.4 0 1 0 33 0a16.5 16.4 0 1 0 -33 0zM1397 1265.7a16.5 16.4 0 1 0 33 0a16.5 16.4 0 1 0 -33 0zM1407.2 1261.1a16.5 16.4 0 1 0 33 0a16.5 16.4 0 1 0 -33 0zM1417.5 1256.3a16.5 16.4 0 1 0 33 0a16.5 16.4 0 1 0 -33 0zM1427.8 1251.3a16.5 16.4 0 1 0 33 0a16.5 16.4 0 1 0 -33 0zM1438.3 1246.2a16.5 16.4 0 1 0 33 0a16.5 16.4 0 1 0 -33 0zM1448.9 1240.7a16.5 16.4 0 1 0 33 0a16.5 16.4 0 1 0 -33 0zM1459.6 1234.7a16.5 16.4 0 1 0 33 0a16.5 16.4 0 1 0 -33 0zM1470.4 1227.4a16.5 16.4 0 1 0 33 0a16.5 16.4 0 1 0 -33 0zM1481.3 1219.1a16.5 16.4 0 1 0 33 0a16.5 16.4 0 1 0 -33 0zM1492.3 1210.4a16.5 16.4 0 1 0 33 0a16.5 16.4 0 1 0 -33 0zM1503.4 1202.2a16.5 16.4 0 1 0 33 0a16.5 16.4 0 1 0 -33 0zM1514.7 1194.2a16.5 16.4 0 1 0 33 0a16.5 16.4 0 1 0 -33 0zM1526 1185.8a16.5 16.4 0 1 0 33 0a16.5 16.4 0 1 0 -33 0zM1537.4 1175.2a16.5 16.4 0 1 0 33 0a16.5 16.4 0 1 0 -33 0zM1549 1162.3a16.5 16.4 0 1 0 33 0a16.5 16.4 0 1 0 -33 0zM1560.7 1148.5a16.5 16.4 0 1 0 33 0a16.5 16.4 0 1 0 -33 0zM1572.5 1134a16.5 16.4 0 1 0 33 0a16.5 16.4 0 1 0 -33 0zM1584.4 1118.9a16.5 16.4 0 1 0 33 0a16.5 16.4 0 1 0 -33 0zM1596.5 1101.6a16.5 16.4 0 1 0 33 0a16.5 16.4 0 1 0 -33 0zM1608.6 1085.2a16.5 16.4 0 1 0 33 0a16.5 16.4 0 1 0 -33 0zM1620.9 1067.3a16.5 16.4 0 1 0 33 0a16.5 16.4 0 1 0 -33 0zM1633.3 1047.6a16.5 16.4 0 1 0 33 0a16.5 16.4 0 1 0 -33 0zM1645.9 1025.4a16.5 16.4 0 1 0 33 0a16.5 16.4 0 1 0 -33 0zM1658.6 1001.2a16.5 16.4 0 1 0 33 0a16.5 16.4 0 1 0 -33 0zM1671.4 974.2a16.5 16.4 0 1 0 33 0a16.5 16.4 0 1 0 -33 0zM1684.3 944.7a16.5 16.4 0 1 0 33 0a16.5 16.4 0 1 0 -33 0zM1697.4 912.1a16.5 16.4 0 1 0 33 0a16.5 16.4 0 1 0 -33 0zM1710.7 875.4a16.5 16.4 0 1 0 33 0a16.5 16.4 0 1 0 -33 0zM1724 834.3a16.5 16.4 0 1 0 33 0a16.5 16.4 0 1 0 -33 0zM1737.6 786.7a16.5 16.4 0 1 0 33 0a16.5 16.4 0 1 0 -33 0zM1751.2 733.8a16.5 16.4 0 1 0 33 0a16.5 16.4 0 1 0 -33 0zM1765.1 674.2a16.5 16.4 0 1 0 33 0a16.5 16.4 0 1 0 -33 0zM1779 607.3a16.5 16.4 0 1 0 33 0a16.5 16.4 0 1 0 -33 0zM1793.2 534.4a16.5 16.4 0 1 0 33 0a16.5 16.4 0 1 0 -33 0zM1807.4 456.2a16.5 16.4 0 1 0 33 0a16.5 16.4 0 1 0 -33 0zM1821.9 377a16.5 16.4 0 1 0 33 0a16.5 16.4 0 1 0 -33 0zM1836.5 299.7a16.5 16.4 0 1 0 33 0a16.5 16.4 0 1 0 -33 0zM1851.3 239.5a16.5 16.4 0 1 0 33 0a16.5 16.4 0 1 0 -33 0zM1866.2 193.2a16.5 16.4 0 1 0 33 0a16.5 16.4 0 1 0 -33 0zM1881.3 178.7a16.5 16.4 0 1 0 33 0a16.5 16.4 0 1 0 -33 0zM1896.6 176.5a16.5 16.4 0 1 0 33 0a16.5 16.4 0 1 0 -33 0zM1912.1 177.2a16.5 16.4 0 1 0 33 0a16.5 16.4 0 1 0 -33 0zM1927.7 177.2a16.5 16.4 0 1 0 33 0a16.5 16.4 0 1 0 -33 0zM1943.6 179.1a16.5 16.4 0 1 0 33 0a16.5 16.4 0 1 0 -33 0zM1959.6 187.2a16.5 16.4 0 1 0 33 0a16.5 16.4 0 1 0 -33 0zM1975.8 191.4a16.5 16.4 0 1 0 33 0a16.5 16.4 0 1 0 -33 0zM1992.2 192.2a16.5 16.4 0 1 0 33 0a16.5 16.4 0 1 0 -33 0zM2008.8 196.6a16.5 16.4 0 1 0 33 0a16.5 16.4 0 1 0 -33 0zM2025.6 210.7a16.5 16.4 0 1 0 33 0a16.5 16.4 0 1 0 -33 0zM2042.6 235a16.5 16.4 0 1 0 33 0a16.5 16.4 0 1 0 -33 0zM2059.9 254.6a16.5 16.4 0 1 0 33 0a16.5 16.4 0 1 0 -33 0zM2067.6 262.2a16.5 16.4 0 1 0 33 0a16.5 16.4 0 1 0 -33 0z" fill="#0000ff"/>
<path d="M299.1 1389L301.5 1388.6L303.9 1388.3L306.3 1388L308.7 1387.8L311.1 1387.5L313.6 1387.2L316 1386.9L318.5 1386.7L321 1386.4L323.4 1386.1L325.9 1385.9L328.4 1385.6L331 1385.3L333.5 1385.1L336 1384.8L338.6 1384.5L341.2 1384.3L343.7 1384L346.3 1383.7L348.9 1383.5L351.5 1383.2L354.2 1383L356.8 1382.8L359.5 1382.5L362.1 1382.3L364.8 1382L367.5 1381.8L370.2 1381.6L372.9 1381.4L375.7 1381.1L378.4 1380.9L381.2 1380.7L383.9 1380.5L386.7 1380.3L389.5 1380.1L392.3 1380L395.2 1379.8L398 1379.6L400.9 1379.4L403.7 1379.3L406.6 1379.2L409.5 1379L412.4 1378.9L415.3 1378.7L418.3 1378.6L421.2 1378.4L424.2 1378.3L427.2 1378.1L430.2 1378L433.2 1377.8L436.3 1377.7L439.3 1377.6L442.4 1377.4L445.5 1377.3L448.6 1377.2L451.7 1377L454.8 1376.9L457.9 1376.8L461.1 1376.7L464.3 1376.5L467.5 1376.4L470.7 1376.3L473.9 1376.2L477.2 1376.1L480.4 1376L483.7 1375.8L487 1375.7L490.3 1375.6L493.7 1375.5L497 1375.4L500.4 1375.3L503.8 1375.2L507.2 1375.1L510.6 1375L514.1 1374.9L517.5 1374.8L521 1374.7L524.5 1374.7L528 1374.6L531.6 1374.5L535.1 1374.4L538.7 1374.3L542.3 1374.3L545.9 1374.2L549.6 1374.1L553.2 1374L556.9 1374L560.6 1373.9L564.4 1373.8L568.1 1373.8L571.9 1373.7L575.7 1373.7L579.5 1373.6L583.3 1373.5L587.2 1373.5L591 1373.4L594.9 1373.4L598.9 1373.3L602.8 1373.3L606.8 1373.2L610.8 1373.2L614.8 1373.1L618.8 1373.1L622.9 1373L627 1372.9L631.1 1372.9L635.2 1372.8L639.4 1372.8L643.6 1372.7L647.8 1372.6L652.1 1372.6L656.3 1372.5L660.6 1372.4L664.9 1372.4L669.3 1372.3L673.6 1372.2L678 1372.1L682.5 1372.1L686.9 1372L691.4 1371.9L695.9 1371.8L700.4 1371.8L705 1371.7L709.6 1371.6L714.2 1371.5L718.9 1371.4L723.6 1371.3L728.3 1371.1L733 1371L737.8 1370.9L742.6 1370.7L747.4 1370.5L752.3 1370.3L757.2 1370L762.1 1369.8L767.1 1369.5L772.1 1369.2L777.1 1368.9L782.2 1368.7L787.3 1368.4L792.4 1368.1L797.6 1367.8L802.8 1367.5L808 1367.2L813.3 1366.9L818.6 1366.6L823.9 1366.3L829.3 1366.1L834.7 1365.8L840.2 1365.5L845.7 1365.2L851.2 1364.9L856.8 1364.6L862.4 1364.3L868 1363.9L873.7 1363.6L879.5 1363.3L885.2 1363.1L891 1362.8L896.9 1362.6L902.8 1362.4L908.7 1362.3L914.7 1362.2L920.7 1362.2L926.8 1362.4L932.9 1362.9L939 1363.6L945.2 1364.3L951.5 1365L957.8 1365.6L964.1 1366L970.5 1366L976.9 1365.9L983.4 1365.6L989.9 1365.4L996.5 1365L1003.1 1364.7L1009.8 1364.3L1016.6 1364L1023.3 1363.8L1030.2 1363.5L1037.1 1363.2L1044 1362.9L1051 1362.6L1058.1 1362.3L1065.2 1362L1072.3 1361.7L1079.5 1361.3L1086.8 1361L1094.2 1360.7L1101.5 1360.3L1109 1359.9L1116.5 1359.6L1124.1 1359.2L1131.7 1358.8L1139.4 1358.4L1147.2 1358L1155 1357.6L1162.9 1357.1L1170.9 1356.7L1178.9 1356.2L1187 1355.7L1195.1 1355.2L1203.4 1354.7L1211.7 1354.2L1220 1353.6L1228.5 1353L1237 1352.4L1245.6 1351.8L1254.3 1351.2L1263 1350.5L1271.8 1349.7L1280.7 1348.9L1289.7 1348.1L1298.7 1347L1307.9 1346.1L1317.1 1344.9L1326.4 1343.5L1335.8 1342L1345.2 1340.4L1354.8 1338.7L1364.4 1336.8L1374.1 1334.9L1384 1332.9L1393.9 1330.8L1403.9 1328.5L1414 1326.1L1424.2 1323.6L1434.5 1320.8L1444.8 1317.7L1455.3 1314.3L1465.9 1310.6L1476.6 1306.3L1487.4 1300.3L1498.3 1294.2L1509.3 1287.9L1520.4 1281.2L1531.7 1274.1L1543 1266.6L1554.4 1258.8L1566 1248.9L1577.7 1237.1L1589.5 1225.3L1601.4 1211.8L1613.5 1196.4L1625.6 1180.1L1637.9 1160.2L1650.3 1140.3L1662.9 1117.6L1675.6 1093.5L1688.4 1066L1701.3 1034.6L1714.4 999.5L1727.7 959.7L1741 915.3L1754.6 863.8L1768.2 806.5L1782.1 740.8L1796 667.9L1810.2 588.3L1824.4 499.9L1838.9 410L1853.5 328L1868.3 263.8L1883.2 232.4L1898.3 214.5L1913.6 208.4L1929.1 216L1944.7 218.5L1960.6 219.7L1976.6 229L1992.8 228L2009.2 232.5L2025.8 244L2042.6 249.6L2059.6 257.8L2076.9 287.8L2083.8 298.7" fill="none" stroke="#000" stroke-width="7.6" stroke-linejoin="round"/>
<path d="M298.6 1371.3l16 8.8l0 17.6l-16 8.8l-16 -8.8l0 -17.6zM301 1370.9l16 8.8l0 17.6l-16 8.8l-16 -8.8l0 -17.6zM303.4 1370.7l16 8.8l0 17.6l-16 8.8l-16 -8.8l0 -17.6zM305.8 1370.4l16 8.8l0 17.6l-16 8.8l-16 -8.8l0 -17.6zM308.2 1370.1l16 8.8l0 17.6l-16 8.8l-16 -8.8l0 -17.6zM310.6 1369.8l16 8.8l0 17.6l-16 8.8l-16 -8.8l0 -17.6zM313.1 1369.6l16 8.8l0 17.6l-16 8.8l-16 -8.8l0 -17.6zM315.5 1369.3l16 8.8l0 17.6l-16 8.8l-16 -8.8l0 -17.6zM318 1369l16 8.8l0 17.6l-16 8.8l-16 -8.8l0 -17.6zM320.5 1368.7l16 8.8l0 17.6l-16 8.8l-16 -8.8l0 -17.6zM322.9 1368.5l16 8.8l0 17.6l-16 8.8l-16 -8.8l0 -17.6zM325.4 1368.2l16 8.8l0 17.6l-16 8.8l-16 -8.8l0 -17.6zM327.9 1367.9l16 8.8l0 17.6l-16 8.8l-16 -8.8l0 -17.6zM330.5 1367.7l16 8.8l0 17.6l-16 8.8l-16 -8.8l0 -17.6zM333 1367.4l16 8.8l0 17.6l-16 8.8l-16 -8.8l0 -17.6zM335.5 1367.1l16 8.8l0 17.6l-16 8.8l-16 -8.8l0 -17.6zM338.1 1366.9l16 8.8l0 17.6l-16 8.8l-16 -8.8l0 -17.6zM340.7 1366.6l16 8.8l0 17.6l-16 8.8l-16 -8.8l0 -17.6zM343.2 1366.4l16 8.8l0 17.6l-16 8.8l-16 -8.8l0 -17.6zM345.8 1366.1l16 8.8l0 17.6l-16 8.8l-16 -8.8l0 -17.6zM348.4 1365.8l16 8.8l0 17.6l-16 8.8l-16 -8.8l0 -17.6zM351 1365.6l16 8.8l0 17.6l-16 8.8l-16 -8.8l0 -17.6zM353.7 1365.3l16 8.8l0 17.6l-16 8.8l-16 -8.8l0 -17.6zM356.3 1365.1l16 8.8l0 17.6l-16 8.8l-16 -8.8l0 -17.6zM359 1364.9l16 8.8l0 17.6l-16 8.8l-16 -8.8l0 -17.6zM361.6 1364.6l16 8.8l0 17.6l-16 8.8l-16 -8.8l0 -17.6zM364.3 1364.4l16 8.8l0 17.6l-16 8.8l-16 -8.8l0 -17.6zM367 1364.2l16 8.8l0 17.6l-16 8.8l-16 -8.8l0 -17.6zM369.7 1363.9l16 8.8l0 17.6l-16 8.8l-16 -8.8l0 -17.6zM372.4 1363.7l16 8.8l0 17.6l-16 8.8l-16 -8.8l0 -17.6zM375.2 1363.5l16 8.8l0 17.6l-16 8.8l-16 -8.8l0 -17.6zM377.9 1363.3l16 8.8l0 17.6l-16 8.8l-16 -8.8l0 -17.6zM380.7 1363.1l16 8.8l0 17.6l-16 8.8l-16 -8.8l0 -17.6zM383.4 1362.9l16 8.8l0 17.6l-16 8.8l-16 -8.8l0 -17.6zM386.2 1362.7l16 8.8l0 17.6l-16 8.8l-16 -8.8l0 -17.6zM389 1362.5l16 8.8l0 17.6l-16 8.8l-16 -8.8l0 -17.6zM391.8 1362.3l16 8.8l0 17.6l-16 8.8l-16 -8.8l0 -17.6zM394.7 1362.1l16 8.8l0 17.6l-16 8.8l-16 -8.8l0 -17.6zM397.5 1362l16 8.8l0 17.6l-16 8.8l-16 -8.8l0 -17.6zM400.4 1361.8l16 8.8l0 17.6l-16 8.8l-16 -8.8l0 -17.6zM403.2 1361.7l16 8.8l0 17.6l-16 8.8l-16 -8.8l0 -17.6zM406.1 1361.5l16 8.8l0 17.6l-16 8.8l-16 -8.8l0 -17.6zM409 1361.4l16 8.8l0 17.6l-16 8.8l-16 -8.8l0 -17.6zM411.9 1361.2l16 8.8l0 17.6l-16 8.8l-16 -8.8l0 -17.6zM414.8 1361.1l16 8.8l0 17.6l-16 8.8l-16 -8.8l0 -17.6zM417.8 1360.9l16 8.8l0 17.6l-16 8.8l-16 -8.8l0 -17.6zM420.7 1360.8l16 8.8l0 17.6l-16 8.8l-16 -8.8l0 -17.6zM423.7 1360.6l16 8.8l0 17.6l-16 8.8l-16 -8.8l0 -17.6zM426.7 1360.5l16 8.8l0 17.6l-16 8.8l-16 -8.8l0 -17.6zM429.7 1360.3l16 8.8l0 17.6l-16 8.8l-16 -8.8l0 -17.6zM432.7 1360.2l16 8.8l0 17.6l-16 8.8l-16 -8.8l0 -17.6zM435.8 1360.1l16 8.8l0 17.6l-16 8.8l-16 -8.8l0 -17.6zM438.8 1359.9l16 8.8l0 17.6l-16 8.8l-16 -8.8l0 -17.6zM441.9 1359.8l16 8.8l0 17.6l-16 8.8l-16 -8.8l0 -17.6zM445 1359.7l16 8.8l0 17.6l-16 8.8l-16 -8.8l0 -17.6zM448.1 1359.5l16 8.8l0 17.6l-16 8.8l-16 -8.8l0 -17.6zM451.2 1359.4l16 8.8l0 17.6l-16 8.8l-16 -8.8l0 -17.6zM454.3 1359.3l16 8.8l0 17.6l-16 8.8l-16 -8.8l0 -17.6zM457.4 1359.1l16 8.8l0 17.6l-16 8.8l-16 -8.8l0 -17.6zM460.6 1359l16 8.8l0 17.6l-16 8.8l-16 -8.8l0 -17.6zM463.8 1358.9l16 8.8l0 17.6l-16 8.8l-16 -8.8l0 -17.6zM467 1358.8l16 8.8l0 17.6l-16 8.8l-16 -8.8l0 -17.6zM470.2 1358.7l16 8.8l0 17.6l-16 8.8l-16 -8.8l0 -17.6zM473.4 1358.5l16 8.8l0 17.6l-16 8.8l-16 -8.8l0 -17.6zM476.7 1358.4l16 8.8l0 17.6l-16 8.8l-16 -8.8l0 -17.6zM479.9 1358.3l16 8.8l0 17.6l-16 8.8l-16 -8.8l0 -17.6zM483.2 1358.2l16 8.8l0 17.6l-16 8.8l-16 -8.8l0 -17.6zM486.5 1358.1l16 8.8l0 17.6l-16 8.8l-16 -8.8l0 -17.6zM489.8 1358l16 8.8l0 17.6l-16 8.8l-16 -8.8l0 -17.6zM493.2 1357.9l16 8.8l0 17.6l-16 8.8l-16 -8.8l0 -17.6zM496.5 1357.8l16 8.8l0 17.6l-16 8.8l-16 -8.8l0 -17.6zM499.9 1357.7l16 8.8l0 17.6l-16 8.8l-16 -8.8l0 -17.6zM503.3 1357.6l16 8.8l0 17.6l-16 8.8l-16 -8.8l0 -17.6zM506.7 1357.5l16 8.8l0 17.6l-16 8.8l-16 -8.8l0 -17.6zM510.1 1357.4l16 8.8l0 17.6l-16 8.8l-16 -8.8l0 -17.6zM513.6 1357.3l16 8.8l0 17.6l-16 8.8l-16 -8.8l0 -17.6zM517 1357.2l16 8.8l0 17.6l-16 8.8l-16 -8.8l0 -17.6zM520.5 1357.1l16 8.8l0 17.6l-16 8.8l-16 -8.8l0 -17.6zM524 1357l16 8.8l0 17.6l-16 8.8l-16 -8.8l0 -17.6zM527.5 1356.9l16 8.8l0 17.6l-16 8.8l-16 -8.8l0 -17.6zM531.1 1356.8l16 8.8l0 17.6l-16 8.8l-16 -8.8l0 -17.6zM534.6 1356.8l16 8.8l0 17.6l-16 8.8l-16 -8.8l0 -17.6zM538.2 1356.6l16 8.8l0 17.6l-16 8.8l-16 -8.8l0 -17.6zM541.8 1356.6l16 8.8l0 17.6l-16 8.8l-16 -8.8l0 -17.6zM545.4 1356.5l16 8.8l0 17.6l-16 8.8l-16 -8.8l0 -17.6zM549.1 1356.5l16 8.8l0 17.6l-16 8.8l-16 -8.8l0 -17.6zM552.7 1356.4l16 8.8l0 17.6l-16 8.8l-16 -8.8l0 -17.6zM556.4 1356.3l16 8.8l0 17.6l-16 8.8l-16 -8.8l0 -17.6zM560.1 1356.2l16 8.8l0 17.6l-16 8.8l-16 -8.8l0 -17.6zM563.9 1356.2l16 8.8l0 17.6l-16 8.8l-16 -8.8l0 -17.6zM567.6 1356.1l16 8.8l0 17.6l-16 8.8l-16 -8.8l0 -17.6zM571.4 1356.1l16 8.8l0 17.6l-16 8.8l-16 -8.8l0 -17.6zM575.2 1356l16 8.8l0 17.6l-16 8.8l-16 -8.8l0 -17.6zM579 1355.9l16 8.8l0 17.6l-16 8.8l-16 -8.8l0 -17.6zM582.8 1355.9l16 8.8l0 17.6l-16 8.8l-16 -8.8l0 -17.6zM586.7 1355.8l16 8.8l0 17.6l-16 8.8l-16 -8.8l0 -17.6zM590.5 1355.8l16 8.8l0 17.6l-16 8.8l-16 -8.8l0 -17.6zM594.4 1355.7l16 8.8l0 17.6l-16 8.8l-16 -8.8l0 -17.6zM598.4 1355.7l16 8.8l0 17.6l-16 8.8l-16 -8.8l0 -17.6zM602.3 1355.6l16 8.8l0 17.6l-16 8.8l-16 -8.8l0 -17.6zM606.3 1355.6l16 8.8l0 17.6l-16 8.8l-16 -8.8l0 -17.6zM610.3 1355.5l16 8.8l0 17.6l-16 8.8l-16 -8.8l0 -17.6zM614.3 1355.5l16 8.8l0 17.6l-16 8.8l-16 -8.8l0 -17.6zM618.3 1355.4l16 8.8l0 17.6l-16 8.8l-16 -8.8l0 -17.6zM622.4 1355.4l16 8.8l0 17.6l-16 8.8l-16 -8.8l0 -17.6zM626.5 1355.3l16 8.8l0 17.6l-16 8.8l-16 -8.8l0 -17.6zM630.6 1355.2l16 8.8l0 17.6l-16 8.8l-16 -8.8l0 -17.6zM634.7 1355.2l16 8.8l0 17.6l-16 8.8l-16 -8.8l0 -17.6zM638.9 1355.1l16 8.8l0 17.6l-16 8.8l-16 -8.8l0 -17.6zM643.1 1355.1l16 8.8l0 17.6l-16 8.8l-16 -8.8l0 -17.6zM647.3 1355l16 8.8l0 17.6l-16 8.8l-16 -8.8l0 -17.6zM651.6 1354.9l16 8.8l0 17.6l-16 8.8l-16 -8.8l0 -17.6zM655.8 1354.9l16 8.8l0 17.6l-16 8.8l-16 -8.8l0 -17.6zM660.1 1354.8l16 8.8l0 17.6l-16 8.8l-16 -8.8l0 -17.6zM664.4 1354.7l16 8.8l0 17.6l-16 8.8l-16 -8.8l0 -17.6zM668.8 1354.6l16 8.8l0 17.6l-16 8.8l-16 -8.8l0 -17.6zM673.1 1354.6l16 8.8l0 17.6l-16 8.8l-16 -8.8l0 -17.6zM677.5 1354.5l16 8.8l0 17.6l-16 8.8l-16 -8.8l0 -17.6zM682 1354.4l16 8.8l0 17.6l-16 8.8l-16 -8.8l0 -17.6zM686.4 1354.3l16 8.8l0 17.6l-16 8.8l-16 -8.8l0 -17.6zM690.9 1354.3l16 8.8l0 17.6l-16 8.8l-16 -8.8l0 -17.6zM695.4 1354.2l16 8.8l0 17.6l-16 8.8l-16 -8.8l0 -17.6zM699.9 1354.1l16 8.8l0 17.6l-16 8.8l-16 -8.8l0 -17.6zM704.5 1354l16 8.8l0 17.6l-16 8.8l-16 -8.8l0 -17.6zM709.1 1353.9l16 8.8l0 17.6l-16 8.8l-16 -8.8l0 -17.6zM713.7 1353.8l16 8.8l0 17.6l-16 8.8l-16 -8.8l0 -17.6zM718.4 1353.7l16 8.8l0 17.6l-16 8.8l-16 -8.8l0 -17.6zM723.1 1353.6l16 8.8l0 17.6l-16 8.8l-16 -8.8l0 -17.6zM727.8 1353.5l16 8.8l0 17.6l-16 8.8l-16 -8.8l0 -17.6zM732.5 1353.4l16 8.8l0 17.6l-16 8.8l-16 -8.8l0 -17.6zM737.3 1353.2l16 8.8l0 17.6l-16 8.8l-16 -8.8l0 -17.6zM742.1 1353l16 8.8l0 17.6l-16 8.8l-16 -8.8l0 -17.6zM746.9 1352.8l16 8.8l0 17.6l-16 8.8l-16 -8.8l0 -17.6zM751.8 1352.6l16 8.8l0 17.6l-16 8.8l-16 -8.8l0 -17.6zM756.7 1352.4l16 8.8l0 17.6l-16 8.8l-16 -8.8l0 -17.6zM761.6 1352.1l16 8.8l0 17.6l-16 8.8l-16 -8.8l0 -17.6zM766.6 1351.9l16 8.8l0 17.6l-16 8.8l-16 -8.8l0 -17.6zM771.6 1351.6l16 8.8l0 17.6l-16 8.8l-16 -8.8l0 -17.6zM776.6 1351.3l16 8.8l0 17.6l-16 8.8l-16 -8.8l0 -17.6zM781.7 1351l16 8.8l0 17.6l-16 8.8l-16 -8.8l0 -17.6zM786.8 1350.7l16 8.8l0 17.6l-16 8.8l-16 -8.8l0 -17.6zM791.9 1350.4l16 8.8l0 17.6l-16 8.8l-16 -8.8l0 -17.6zM797.1 1350.1l16 8.8l0 17.6l-16 8.8l-16 -8.8l0 -17.6zM802.3 1349.8l16 8.8l0 17.6l-16 8.8l-16 -8.8l0 -17.6zM807.5 1349.5l16 8.8l0 17.6l-16 8.8l-16 -8.8l0 -17.6zM812.8 1349.2l16 8.8l0 17.6l-16 8.8l-16 -8.8l0 -17.6zM818.1 1349l16 8.8l0 17.6l-16 8.8l-16 -8.8l0 -17.6zM823.4 1348.6l16 8.8l0 17.6l-16 8.8l-16 -8.8l0 -17.6zM828.8 1348.4l16 8.8l0 17.6l-16 8.8l-16 -8.8l0 -17.6zM834.2 1348.2l16 8.8l0 17.6l-16 8.8l-16 -8.8l0 -17.6zM839.7 1347.9l16 8.8l0 17.6l-16 8.8l-16 -8.8l0 -17.6zM845.2 1347.6l16 8.8l0 17.6l-16 8.8l-16 -8.8l0 -17.6zM850.7 1347.2l16 8.8l0 17.6l-16 8.8l-16 -8.8l0 -17.6zM856.3 1346.9l16 8.8l0 17.6l-16 8.8l-16 -8.8l0 -17.6zM861.9 1346.6l16 8.8l0 17.6l-16 8.8l-16 -8.8l0 -17.6zM867.5 1346.3l16 8.8l0 17.6l-16 8.8l-16 -8.8l0 -17.6zM873.2 1346l16 8.8l0 17.6l-16 8.8l-16 -8.8l0 -17.6zM879 1345.7l16 8.8l0 17.6l-16 8.8l-16 -8.8l0 -17.6zM884.7 1345.4l16 8.8l0 17.6l-16 8.8l-16 -8.8l0 -17.6zM890.5 1345.2l16 8.8l0 17.6l-16 8.8l-16 -8.8l0 -17.6zM896.4 1345l16 8.8l0 17.6l-16 8.8l-16 -8.8l0 -17.6zM902.3 1344.8l16 8.8l0 17.6l-16 8.8l-16 -8.8l0 -17.6zM908.2 1344.7l16 8.8l0 17.6l-16 8.8l-16 -8.8l0 -17.6zM914.2 1344.6l16 8.8l0 17.6l-16 8.8l-16 -8.8l0 -17.6zM920.2 1344.5l16 8.8l0 17.6l-16 8.8l-16 -8.8l0 -17.6zM926.3 1344.8l16 8.8l0 17.6l-16 8.8l-16 -8.8l0 -17.6zM932.4 1345.3l16 8.8l0 17.6l-16 8.8l-16 -8.8l0 -17.6zM938.5 1345.9l16 8.8l0 17.6l-16 8.8l-16 -8.8l0 -17.6zM944.7 1346.7l16 8.8l0 17.6l-16 8.8l-16 -8.8l0 -17.6zM951 1347.4l16 8.8l0 17.6l-16 8.8l-16 -8.8l0 -17.6zM957.3 1348l16 8.8l0 17.6l-16 8.8l-16 -8.8l0 -17.6zM963.6 1348.3l16 8.8l0 17.6l-16 8.8l-16 -8.8l0 -17.6zM970 1348.3l16 8.8l0 17.6l-16 8.8l-16 -8.8l0 -17.6zM976.4 1348.2l16 8.8l0 17.6l-16 8.8l-16 -8.8l0 -17.6zM982.9 1348l16 8.8l0 17.6l-16 8.8l-16 -8.8l0 -17.6zM989.4 1347.7l16 8.8l0 17.6l-16 8.8l-16 -8.8l0 -17.6zM996 1347.4l16 8.8l0 17.6l-16 8.8l-16 -8.8l0 -17.6zM1002.6 1347l16 8.8l0 17.6l-16 8.8l-16 -8.8l0 -17.6zM1009.3 1346.7l16 8.8l0 17.6l-16 8.8l-16 -8.8l0 -17.6zM1016.1 1346.4l16 8.8l0 17.6l-16 8.8l-16 -8.8l0 -17.6zM1022.8 1346.1l16 8.8l0 17.6l-16 8.8l-16 -8.8l0 -17.6zM1029.7 1345.8l16 8.8l0 17.6l-16 8.8l-16 -8.8l0 -17.6zM1036.6 1345.5l16 8.8l0 17.6l-16 8.8l-16 -8.8l0 -17.6zM1043.5 1345.2l16 8.8l0 17.6l-16 8.8l-16 -8.8l0 -17.6zM1050.5 1344.9l16 8.8l0 17.6l-16 8.8l-16 -8.8l0 -17.6zM1057.6 1344.6l16 8.8l0 17.6l-16 8.8l-16 -8.8l0 -17.6zM1064.7 1344.3l16 8.8l0 17.6l-16 8.8l-16 -8.8l0 -17.6zM1071.8 1344l16 8.8l0 17.6l-16 8.8l-16 -8.8l0 -17.6zM1079 1343.7l16 8.8l0 17.6l-16 8.8l-16 -8.8l0 -17.6zM1086.3 1343.4l16 8.8l0 17.6l-16 8.8l-16 -8.8l0 -17.6zM1093.7 1343l16 8.8l0 17.6l-16 8.8l-16 -8.8l0 -17.6zM1101 1342.7l16 8.8l0 17.6l-16 8.8l-16 -8.8l0 -17.6zM1108.5 1342.2l16 8.8l0 17.6l-16 8.8l-16 -8.8l0 -17.6zM1116 1341.9l16 8.8l0 17.6l-16 8.8l-16 -8.8l0 -17.6zM1123.6 1341.5l16 8.8l0 17.6l-16 8.8l-16 -8.8l0 -17.6zM1131.2 1341.2l16 8.8l0 17.6l-16 8.8l-16 -8.8l0 -17.6zM1138.9 1340.8l16 8.8l0 17.6l-16 8.8l-16 -8.8l0 -17.6zM1146.7 1340.4l16 8.8l0 17.6l-16 8.8l-16 -8.8l0 -17.6zM1154.5 1339.9l16 8.8l0 17.6l-16 8.8l-16 -8.8l0 -17.6zM1162.4 1339.5l16 8.8l0 17.6l-16 8.8l-16 -8.8l0 -17.6zM1170.4 1339l16 8.8l0 17.6l-16 8.8l-16 -8.8l0 -17.6zM1178.4 1338.6l16 8.8l0 17.6l-16 8.8l-16 -8.8l0 -17.6zM1186.5 1338.1l16 8.8l0 17.6l-16 8.8l-16 -8.8l0 -17.6zM1194.6 1337.6l16 8.8l0 17.6l-16 8.8l-16 -8.8l0 -17.6zM1202.9 1337.1l16 8.8l0 17.6l-16 8.8l-16 -8.8l0 -17.6zM1211.2 1336.5l16 8.8l0 17.6l-16 8.8l-16 -8.8l0 -17.6zM1219.5 1336l16 8.8l0 17.6l-16 8.8l-16 -8.8l0 -17.6zM1228 1335.4l16 8.8l0 17.6l-16 8.8l-16 -8.8l0 -17.6zM1236.5 1334.8l16 8.8l0 17.6l-16 8.8l-16 -8.8l0 -17.6zM1245.1 1334.2l16 8.8l0 17.6l-16 8.8l-16 -8.8l0 -17.6zM1253.8 1333.5l16 8.8l0 17.6l-16 8.8l-16 -8.8l0 -17.6zM1262.5 1332.8l16 8.8l0 17.6l-16 8.8l-16 -8.8l0 -17.6zM1271.3 1332.1l16 8.8l0 17.6l-16 8.8l-16 -8.8l0 -17.6zM1280.2 1331.3l16 8.8l0 17.6l-16 8.8l-16 -8.8l0 -17.6zM1289.2 1330.4l16 8.8l0 17.6l-16 8.8l-16 -8.8l0 -17.6zM1298.2 1329.3l16 8.8l0 17.6l-16 8.8l-16 -8.8l0 -17.6zM1307.4 1328.4l16 8.8l0 17.6l-16 8.8l-16 -8.8l0 -17.6zM1316.6 1327.2l16 8.8l0 17.6l-16 8.8l-16 -8.8l0 -17.6zM1325.9 1325.9l16 8.8l0 17.6l-16 8.8l-16 -8.8l0 -17.6zM1335.3 1324.4l16 8.8l0 17.6l-16 8.8l-16 -8.8l0 -17.6zM1344.7 1322.8l16 8.8l0 17.6l-16 8.8l-16 -8.8l0 -17.6zM1354.3 1321l16 8.8l0 17.6l-16 8.8l-16 -8.8l0 -17.6zM1363.9 1319.2l16 8.8l0 17.6l-16 8.8l-16 -8.8l0 -17.6zM1373.6 1317.2l16 8.8l0 17.6l-16 8.8l-16 -8.8l0 -17.6zM1383.5 1315.2l16 8.8l0 17.6l-16 8.8l-16 -8.8l0 -17.6zM1393.4 1313.1l16 8.8l0 17.6l-16 8.8l-16 -8.8l0 -17.6zM1403.4 1310.9l16 8.8l0 17.6l-16 8.8l-16 -8.8l0 -17.6zM1413.5 1308.5l16 8.8l0 17.6l-16 8.8l-16 -8.8l0 -17.6zM1423.7 1305.9l16 8.8l0 17.6l-16 8.8l-16 -8.8l0 -17.6zM1434 1303.1l16 8.8l0 17.6l-16 8.8l-16 -8.8l0 -17.6zM1444.3 1300.1l16 8.8l0 17.6l-16 8.8l-16 -8.8l0 -17.6zM1454.8 1296.7l16 8.8l0 17.6l-16 8.8l-16 -8.8l0 -17.6zM1465.4 1292.9l16 8.8l0 17.6l-16 8.8l-16 -8.8l0 -17.6zM1476.1 1288.7l16 8.8l0 17.6l-16 8.8l-16 -8.8l0 -17.6zM1486.9 1282.6l16 8.8l0 17.6l-16 8.8l-16 -8.8l0 -17.6zM1497.8 1276.5l16 8.8l0 17.6l-16 8.8l-16 -8.8l0 -17.6zM1508.8 1270.3l16 8.8l0 17.6l-16 8.8l-16 -8.8l0 -17.6zM1519.9 1263.5l16 8.8l0 17.6l-16 8.8l-16 -8.8l0 -17.6zM1531.2 1256.5l16 8.8l0 17.6l-16 8.8l-16 -8.8l0 -17.6zM1542.5 1248.9l16 8.8l0 17.6l-16 8.8l-16 -8.8l0 -17.6zM1553.9 1241.1l16 8.8l0 17.6l-16 8.8l-16 -8.8l0 -17.6zM1565.5 1231.2l16 8.8l0 17.6l-16 8.8l-16 -8.8l0 -17.6zM1577.2 1219.4l16 8.8l0 17.6l-16 8.8l-16 -8.8l0 -17.6zM1589 1207.6l16 8.8l0 17.6l-16 8.8l-16 -8.8l0 -17.6zM1600.9 1194.1l16 8.8l0 17.6l-16 8.8l-16 -8.8l0 -17.6zM1613 1178.8l16 8.8l0 17.6l-16 8.8l-16 -8.8l0 -17.6zM1625.1 1162.4l16 8.8l0 17.6l-16 8.8l-16 -8.8l0 -17.6zM1637.4 1142.5l16 8.8l0 17.6l-16 8.8l-16 -8.8l0 -17.6zM1649.8 1122.6l16 8.8l0 17.6l-16 8.8l-16 -8.8l0 -17.6zM1662.4 1099.9l16 8.8l0 17.6l-16 8.8l-16 -8.8l0 -17.6zM1675.1 1075.8l16 8.8l0 17.6l-16 8.8l-16 -8.8l0 -17.6zM1687.9 1048.3l16 8.8l0 17.6l-16 8.8l-16 -8.8l0 -17.6zM1700.8 1016.9l16 8.8l0 17.6l-16 8.8l-16 -8.8l0 -17.6zM1713.9 981.9l16 8.8l0 17.6l-16 8.8l-16 -8.8l0 -17.6zM1727.2 942.1l16 8.8l0 17.6l-16 8.8l-16 -8.8l0 -17.6zM1740.5 897.6l16 8.8l0 17.6l-16 8.8l-16 -8.8l0 -17.6zM1754.1 846.1l16 8.8l0 17.6l-16 8.8l-16 -8.8l0 -17.6zM1767.7 788.9l16 8.8l0 17.6l-16 8.8l-16 -8.8l0 -17.6zM1781.6 723.1l16 8.8l0 17.6l-16 8.8l-16 -8.8l0 -17.6zM1795.5 650.2l16 8.8l0 17.6l-16 8.8l-16 -8.8l0 -17.6zM1809.7 570.6l16 8.8l0 17.6l-16 8.8l-16 -8.8l0 -17.6zM1823.9 482.2l16 8.8l0 17.6l-16 8.8l-16 -8.8l0 -17.6zM1838.4 392.4l16 8.8l0 17.6l-16 8.8l-16 -8.8l0 -17.6zM1853 310.4l16 8.8l0 17.6l-16 8.8l-16 -8.8l0 -17.6zM1867.8 246.2l16 8.8l0 17.6l-16 8.8l-16 -8.8l0 -17.6zM1882.7 214.8l16 8.8l0 17.6l-16 8.8l-16 -8.8l0 -17.6zM1897.8 196.8l16 8.8l0 17.6l-16 8.8l-16 -8.8l0 -17.6zM1913.1 190.8l16 8.8l0 17.6l-16 8.8l-16 -8.8l0 -17.6zM1928.6 198.3l16 8.8l0 17.6l-16 8.8l-16 -8.8l0 -17.6zM1944.2 200.8l16 8.8l0 17.6l-16 8.8l-16 -8.8l0 -17.6zM1960.1 202l16 8.8l0 17.6l-16 8.8l-16 -8.8l0 -17.6zM1976.1 211.3l16 8.8l0 17.6l-16 8.8l-16 -8.8l0 -17.6zM1992.3 210.3l16 8.8l0 17.6l-16 8.8l-16 -8.8l0 -17.6zM2008.7 214.8l16 8.8l0 17.6l-16 8.8l-16 -8.8l0 -17.6zM2025.3 226.3l16 8.8l0 17.6l-16 8.8l-16 -8.8l0 -17.6zM2042.1 231.9l16 8.8l0 17.6l-16 8.8l-16 -8.8l0 -17.6zM2059.1 240.2l16 8.8l0 17.6l-16 8.8l-16 -8.8l0 -17.6zM2076.4 270.2l16 8.8l0 17.6l-16 8.8l-16 -8.8l0 -17.6zM2083.3 281.1l16 8.8l0 17.6l-16 8.8l-16 -8.8l0 -17.6z" fill="#ff00ff"/>
<path d="M299.1 1383.4L301.5 1383.5L303.9 1383.6L306.3 1383.6L308.7 1383.7L311.1 1383.8L313.6 1383.8L316 1383.9L318.5 1384L321 1384.1L323.4 1384.1L325.9 1384.2L328.4 1384.3L331 1384.3L333.5 1384.4L336 1384.5L338.6 1384.6L341.2 1384.6L343.7 1384.7L346.3 1384.8L348.9 1384.9L351.5 1384.9L354.2 1385L356.8 1385.1L359.5 1385.2L362.1 1385.2L364.8 1385.3L367.5 1385.4L370.2 1385.5L372.9 1385.6L375.7 1385.6L378.4 1385.7L381.2 1385.8L383.9 1385.9L386.7 1386L389.5 1386L392.3 1386.1L395.2 1386.2L398 1386.3L400.9 1386.4L403.7 1386.5L406.6 1386.5L409.5 1386.6L412.4 1386.7L415.3 1386.8L418.3 1386.9L421.2 1387L424.2 1387.1L427.2 1387.2L430.2 1387.3L433.2 1387.4L436.3 1387.5L439.3 1387.6L442.4 1387.7L445.5 1387.8L448.6 1388L451.7 1388.1L454.8 1388.2L457.9 1388.3L461.1 1388.4L464.3 1388.5L467.5 1388.6L470.7 1388.7L473.9 1388.9L477.2 1389L480.4 1389.1L483.7 1389.2L487 1389.3L490.3 1389.4L493.7 1389.5L497 1389.6L500.4 1389.7L503.8 1389.8L507.2 1389.9L510.6 1390L514.1 1390.1L517.5 1390.2L521 1390.2L524.5 1390.3L528 1390.4L531.6 1390.5L535.1 1390.5L538.7 1390.6L542.3 1390.6L545.9 1390.7L549.6 1390.7L553.2 1390.7L556.9 1390.8L560.6 1390.8L564.4 1390.8L568.1 1390.9L571.9 1390.9L575.7 1390.9L579.5 1390.9L583.3 1391L587.2 1391L591 1391L594.9 1391.1L598.9 1391.1L602.8 1391.1L606.8 1391.1L610.8 1391.2L614.8 1391.2L618.8 1391.2L622.9 1391.2L627 1391.3L631.1 1391.3L635.2 1391.3L639.4 1391.3L643.6 1391.4L647.8 1391.4L652.1 1391.4L656.3 1391.4L660.6 1391.4L664.9 1391.5L669.3 1391.5L673.6 1391.5L678 1391.5L682.5 1391.5L686.9 1391.5L691.4 1391.6L695.9 1391.6L700.4 1391.6L705 1391.6L709.6 1391.6L714.2 1391.6L718.9 1391.6L723.6 1391.6L728.3 1391.6L733 1391.6L737.8 1391.6L742.6 1391.5L747.4 1391.4L752.3 1391.2L757.2 1391.1L762.1 1390.9L767.1 1390.6L772.1 1390.4L777.1 1390.2L782.2 1389.9L787.3 1389.6L792.4 1389.3L797.6 1389L802.8 1388.7L808 1388.4L813.3 1388.1L818.6 1387.8L823.9 1387.5L829.3 1387.3L834.7 1387L840.2 1386.7L845.7 1386.4L851.2 1386.1L856.8 1385.8L862.4 1385.5L868 1385.2L873.7 1384.9L879.5 1384.5L885.2 1384.2L891 1383.8L896.9 1383.5L902.8 1383.1L908.7 1382.7L914.7 1382.3L920.7 1382L926.8 1381.5L932.9 1381.1L939 1380.7L945.2 1380.2L951.5 1379.8L957.8 1379.3L964.1 1378.8L970.5 1378.3L976.9 1377.8L983.4 1377.3L989.9 1376.7L996.5 1376.2L1003.1 1375.7L1009.8 1375.2L1016.6 1374.7L1023.3 1374.2L1030.2 1373.7L1037.1 1373.1L1044 1372.6L1051 1372.1L1058.1 1371.6L1065.2 1371.2L1072.3 1370.7L1079.5 1370.2L1086.8 1369.7L1094.2 1369.2L1101.5 1368.7L1109 1368.1L1116.5 1367.7L1124.1 1367.2L1131.7 1366.7L1139.4 1366.1L1147.2 1365.6L1155 1365.1L1162.9 1364.6L1170.9 1364L1178.9 1363.4L1187 1362.8L1195.1 1362.2L1203.4 1361.5L1211.7 1360.9L1220 1360.3L1228.5 1359.6L1237 1358.9L1245.6 1358.2L1254.3 1357.6L1263 1356.8L1271.8 1356L1280.7 1355.2L1289.7 1354.3L1298.7 1353.2L1307.9 1352.4L1317.1 1351.4L1326.4 1350.4L1335.8 1349.4L1345.2 1348.3L1354.8 1347.1L1364.4 1345.7L1374.1 1344.1L1384 1342.3L1393.9 1340L1403.9 1337.4L1414 1334.4L1424.2 1331.3L1434.5 1327.9L1444.8 1324.3L1455.3 1320.6L1465.9 1316.8L1476.6 1313.1L1487.4 1309.1L1498.3 1304L1509.3 1298.2L1520.4 1293.2L1531.7 1286.3L1543 1279L1554.4 1271.1L1566 1262L1577.7 1252.1L1589.5 1241.2L1601.4 1228.9L1613.5 1216.2L1625.6 1201.8L1637.9 1186.9L1650.3 1170.1L1662.9 1150.2L1675.6 1129.9L1688.4 1106.3L1701.3 1081.3L1714.4 1053L1727.7 1019.2L1741 981.5L1754.6 938.1L1768.2 888.9L1782.1 833.9L1796 772.3L1810.2 703.4L1824.4 626.9L1838.9 542.9L1853.5 456L1868.3 371L1883.2 295.4L1898.3 245L1913.6 219.8L1929.1 216.3L1944.7 224.2L1960.6 225.4L1976.6 225.4L1992.8 236L2009.2 247.3L2025.8 247.3L2042.6 261.4L2059.6 268.5L2076.9 280.2L2084.6 287.2" fill="none" stroke="#000" stroke-width="7.6" stroke-linejoin="round"/>
<path d="M297.2 1360.3l3.5 0l3.8 15l15.8 0.1l0 3.3l-11 8.6l4.1 14.4l-3.5 0.6l-11.1 -7.8l-10.9 7.8l-3.6 -0.6l4.2 -14.4l-12.3 -8.6l0 -3.3l17 -0.1zM299.6 1360.4l3.5 0l3.8 15l15.8 0.1l0 3.3l-11 8.6l4.1 14.4l-3.5 0.6l-11.1 -7.8l-10.9 7.8l-3.6 -0.6l4.2 -14.4l-12.3 -8.6l0 -3.3l17 -0.1zM302 1360.5l3.5 0l3.8 15l15.8 0.1l0 3.3l-11 8.6l4.1 14.4l-3.5 0.6l-11.1 -7.8l-10.9 7.8l-3.6 -0.6l4.2 -14.4l-12.3 -8.6l0 -3.3l17 -0.1zM304.4 1360.5l3.5 0l3.8 15l15.8 0.1l0 3.3l-11 8.6l4.1 14.4l-3.5 0.6l-11.1 -7.8l-10.9 7.8l-3.6 -0.6l4.2 -14.4l-12.3 -8.6l0 -3.3l17 -0.1zM306.8 1360.6l3.5 0l3.8 15l15.8 0.1l0 3.3l-11 8.6l4.1 14.4l-3.5 0.6l-11.1 -7.8l-10.9 7.8l-3.6 -0.6l4.2 -14.4l-12.3 -8.6l0 -3.3l17 -0.1zM309.2 1360.7l3.5 0l3.8 15l15.8 0.1l0 3.3l-11 8.6l4.1 14.4l-3.5 0.6l-11.1 -7.8l-10.9 7.8l-3.6 -0.6l4.2 -14.4l-12.3 -8.6l0 -3.3l17 -0.1zM311.7 1360.7l3.5 0l3.8 15l15.8 0.1l0 3.3l-11 8.6l4.1 14.4l-3.5 0.6l-11.1 -7.8l-10.9 7.8l-3.6 -0.6l4.2 -14.4l-12.3 -8.6l0 -3.3l17 -0.1zM314.1 1360.8l3.5 0l3.8 15l15.8 0.1l0 3.3l-11 8.6l4.1 14.4l-3.5 0.6l-11.1 -7.8l-10.9 7.8l-3.6 -0.6l4.2 -14.4l-12.3 -8.6l0 -3.3l17 -0.1zM316.6 1360.9l3.5 0l3.8 15l15.8 0.1l0 3.3l-11 8.6l4.1 14.4l-3.5 0.6l-11.1 -7.8l-10.9 7.8l-3.6 -0.6l4.2 -14.4l-12.3 -8.6l0 -3.3l17 -0.1zM319.1 1361l3.5 0l3.8 15l15.8 0.1l0 3.3l-11 8.6l4.1 14.4l-3.5 0.6l-11.1 -7.8l-10.9 7.8l-3.6 -0.6l4.2 -14.4l-12.3 -8.6l0 -3.3l17 -0.1zM321.5 1361l3.5 0l3.8 15l15.8 0.1l0 3.3l-11 8.6l4.1 14.4l-3.5 0.6l-11.1 -7.8l-10.9 7.8l-3.6 -0.6l4.2 -14.4l-12.3 -8.6l0 -3.3l17 -0.1zM324 1361.1l3.5 0l3.8 15l15.8 0.1l0 3.3l-11 8.6l4.1 14.4l-3.5 0.6l-11.1 -7.8l-10.9 7.8l-3.6 -0.6l4.2 -14.4l-12.3 -8.6l0 -3.3l17 -0.1zM326.5 1361.2l3.5 0l3.8 15l15.8 0.1l0 3.3l-11 8.6l4.1 14.4l-3.5 0.6l-11.1 -7.8l-10.9 7.8l-3.6 -0.6l4.2 -14.4l-12.3 -8.6l0 -3.3l17 -0.1zM329.1 1361.2l3.5 0l3.8 15l15.8 0.1l0 3.3l-11 8.6l4.1 14.4l-3.5 0.6l-11.1 -7.8l-10.9 7.8l-3.6 -0.6l4.2 -14.4l-12.3 -8.6l0 -3.3l17 -0.1zM331.6 1361.3l3.5 0l3.8 15l15.8 0.1l0 3.3l-11 8.6l4.1 14.4l-3.5 0.6l-11.1 -7.8l-10.9 7.8l-3.6 -0.6l4.2 -14.4l-12.3 -8.6l0 -3.3l17 -0.1zM334.1 1361.4l3.5 0l3.8 15l15.8 0.1l0 3.3l-11 8.6l4.1 14.4l-3.5 0.6l-11.1 -7.8l-10.9 7.8l-3.6 -0.6l4.2 -14.4l-12.3 -8.6l0 -3.3l17 -0.1zM336.7 1361.5l3.5 0l3.8 15l15.8 0.1l0 3.3l-11 8.6l4.1 14.4l-3.5 0.6l-11.1 -7.8l-10.9 7.8l-3.6 -0.6l4.2 -14.4l-12.3 -8.6l0 -3.3l17 -0.1zM339.3 1361.5l3.5 0l3.8 15l15.8 0.1l0 3.3l-11 8.6l4.1 14.4l-3.5 0.6l-11.1 -7.8l-10.9 7.8l-3.6 -0.6l4.2 -14.4l-12.3 -8.6l0 -3.3l17 -0.1zM341.8 1361.6l3.5 0l3.8 15l15.8 0.1l0 3.3l-11 8.6l4.1 14.4l-3.5 0.6l-11.1 -7.8l-10.9 7.8l-3.6 -0.6l4.2 -14.4l-12.3 -8.6l0 -3.3l17 -0.1zM344.4 1361.7l3.5 0l3.8 15l15.8 0.1l0 3.3l-11 8.6l4.1 14.4l-3.5 0.6l-11.1 -7.8l-10.9 7.8l-3.6 -0.6l4.2 -14.4l-12.3 -8.6l0 -3.3l17 -0.1zM347 1361.8l3.5 0l3.8 15l15.8 0.1l0 3.3l-11 8.6l4.1 14.4l-3.5 0.6l-11.1 -7.8l-10.9 7.8l-3.6 -0.6l4.2 -14.4l-12.3 -8.6l0 -3.3l17 -0.1zM349.6 1361.8l3.5 0l3.8 15l15.8 0.1l0 3.3l-11 8.6l4.1 14.4l-3.5 0.6l-11.1 -7.8l-10.9 7.8l-3.6 -0.6l4.2 -14.4l-12.3 -8.6l0 -3.3l17 -0.1zM352.3 1361.9l3.5 0l3.8 15l15.8 0.1l0 3.3l-11 8.6l4.1 14.4l-3.5 0.6l-11.1 -7.8l-10.9 7.8l-3.6 -0.6l4.2 -14.4l-12.3 -8.6l0 -3.3l17 -0.1zM354.9 1362l3.5 0l3.8 15l15.8 0.1l0 3.3l-11 8.6l4.1 14.4l-3.5 0.6l-11.1 -7.8l-10.9 7.8l-3.6 -0.6l4.2 -14.4l-12.3 -8.6l0 -3.3l17 -0.1zM357.6 1362.1l3.5 0l3.8 15l15.8 0.1l0 3.3l-11 8.6l4.1 14.4l-3.5 0.6l-11.1 -7.8l-10.9 7.8l-3.6 -0.6l4.2 -14.4l-12.3 -8.6l0 -3.3l17 -0.1zM360.2 1362.1l3.5 0l3.8 15l15.8 0.1l0 3.3l-11 8.6l4.1 14.4l-3.5 0.6l-11.1 -7.8l-10.9 7.8l-3.6 -0.6l4.2 -14.4l-12.3 -8.6l0 -3.3l17 -0.1zM362.9 1362.2l3.5 0l3.8 15l15.8 0.1l0 3.3l-11 8.6l4.1 14.4l-3.5 0.6l-11.1 -7.8l-10.9 7.8l-3.6 -0.6l4.2 -14.4l-12.3 -8.6l0 -3.3l17 -0.1zM365.6 1362.3l3.5 0l3.8 15l15.8 0.1l0 3.3l-11 8.6l4.1 14.4l-3.5 0.6l-11.1 -7.8l-10.9 7.8l-3.6 -0.6l4.2 -14.4l-12.3 -8.6l0 -3.3l17 -0.1zM368.3 1362.4l3.5 0l3.8 15l15.8 0.1l0 3.3l-11 8.6l4.1 14.4l-3.5 0.6l-11.1 -7.8l-10.9 7.8l-3.6 -0.6l4.2 -14.4l-12.3 -8.6l0 -3.3l17 -0.1zM371 1362.5l3.5 0l3.8 15l15.8 0.1l0 3.3l-11 8.6l4.1 14.4l-3.5 0.6l-11.1 -7.8l-10.9 7.8l-3.6 -0.6l4.2 -14.4l-12.3 -8.6l0 -3.3l17 -0.1zM373.8 1362.5l3.5 0l3.8 15l15.8 0.1l0 3.3l-11 8.6l4.1 14.4l-3.5 0.6l-11.1 -7.8l-10.9 7.8l-3.6 -0.6l4.2 -14.4l-12.3 -8.6l0 -3.3l17 -0.1zM376.5 1362.6l3.5 0l3.8 15l15.8 0.1l0 3.3l-11 8.6l4.1 14.4l-3.5 0.6l-11.1 -7.8l-10.9 7.8l-3.6 -0.6l4.2 -14.4l-12.3 -8.6l0 -3.3l17 -0.1zM379.3 1362.7l3.5 0l3.8 15l15.8 0.1l0 3.3l-11 8.6l4.1 14.4l-3.5 0.6l-11.1 -7.8l-10.9 7.8l-3.6 -0.6l4.2 -14.4l-12.3 -8.6l0 -3.3l17 -0.1zM382 1362.8l3.5 0l3.8 15l15.8 0.1l0 3.3l-11 8.6l4.1 14.4l-3.5 0.6l-11.1 -7.8l-10.9 7.8l-3.6 -0.6l4.2 -14.4l-12.3 -8.6l0 -3.3l17 -0.1zM384.8 1362.9l3.5 0l3.8 15l15.8 0.1l0 3.3l-11 8.6l4.1 14.4l-3.5 0.6l-11.1 -7.8l-10.9 7.8l-3.6 -0.6l4.2 -14.4l-12.3 -8.6l0 -3.3l17 -0.1zM387.6 1362.9l3.5 0l3.8 15l15.8 0.1l0 3.3l-11 8.6l4.1 14.4l-3.5 0.6l-11.1 -7.8l-10.9 7.8l-3.6 -0.6l4.2 -14.4l-12.3 -8.6l0 -3.3l17 -0.1zM390.4 1363l3.5 0l3.8 15l15.8 0.1l0 3.3l-11 8.6l4.1 14.4l-3.5 0.6l-11.1 -7.8l-10.9 7.8l-3.6 -0.6l4.2 -14.4l-12.3 -8.6l0 -3.3l17 -0.1zM393.3 1363.1l3.5 0l3.8 15l15.8 0.1l0 3.3l-11 8.6l4.1 14.4l-3.5 0.6l-11.1 -7.8l-10.9 7.8l-3.6 -0.6l4.2 -14.4l-12.3 -8.6l0 -3.3l17 -0.1zM396.1 1363.2l3.5 0l3.8 15l15.8 0.1l0 3.3l-11 8.6l4.1 14.4l-3.5 0.6l-11.1 -7.8l-10.9 7.8l-3.6 -0.6l4.2 -14.4l-12.3 -8.6l0 -3.3l17 -0.1zM399 1363.3l3.5 0l3.8 15l15.8 0.1l0 3.3l-11 8.6l4.1 14.4l-3.5 0.6l-11.1 -7.8l-10.9 7.8l-3.6 -0.6l4.2 -14.4l-12.3 -8.6l0 -3.3l17 -0.1zM401.8 1363.4l3.5 0l3.8 15l15.8 0.1l0 3.3l-11 8.6l4.1 14.4l-3.5 0.6l-11.1 -7.8l-10.9 7.8l-3.6 -0.6l4.2 -14.4l-12.3 -8.6l0 -3.3l17 -0.1zM404.7 1363.4l3.5 0l3.8 15l15.8 0.1l0 3.3l-11 8.6l4.1 14.4l-3.5 0.6l-11.1 -7.8l-10.9 7.8l-3.6 -0.6l4.2 -14.4l-12.3 -8.6l0 -3.3l17 -0.1zM407.6 1363.5l3.5 0l3.8 15l15.8 0.1l0 3.3l-11 8.6l4.1 14.4l-3.5 0.6l-11.1 -7.8l-10.9 7.8l-3.6 -0.6l4.2 -14.4l-12.3 -8.6l0 -3.3l17 -0.1zM410.5 1363.6l3.5 0l3.8 15l15.8 0.1l0 3.3l-11 8.6l4.1 14.4l-3.5 0.6l-11.1 -7.8l-10.9 7.8l-3.6 -0.6l4.2 -14.4l-12.3 -8.6l0 -3.3l17 -0.1zM413.4 1363.7l3.5 0l3.8 15l15.8 0.1l0 3.3l-11 8.6l4.1 14.4l-3.5 0.6l-11.1 -7.8l-10.9 7.8l-3.6 -0.6l4.2 -14.4l-12.3 -8.6l0 -3.3l17 -0.1zM416.4 1363.8l3.5 0l3.8 15l15.8 0.1l0 3.3l-11 8.6l4.1 14.4l-3.5 0.6l-11.1 -7.8l-10.9 7.8l-3.6 -0.6l4.2 -14.4l-12.3 -8.6l0 -3.3l17 -0.1zM419.3 1363.9l3.5 0l3.8 15l15.8 0.1l0 3.3l-11 8.6l4.1 14.4l-3.5 0.6l-11.1 -7.8l-10.9 7.8l-3.6 -0.6l4.2 -14.4l-12.3 -8.6l0 -3.3l17 -0.1zM422.3 1364l3.5 0l3.8 15l15.8 0.1l0 3.3l-11 8.6l4.1 14.4l-3.5 0.6l-11.1 -7.8l-10.9 7.8l-3.6 -0.6l4.2 -14.4l-12.3 -8.6l0 -3.3l17 -0.1zM425.3 1364.1l3.5 0l3.8 15l15.8 0.1l0 3.3l-11 8.6l4.1 14.4l-3.5 0.6l-11.1 -7.8l-10.9 7.8l-3.6 -0.6l4.2 -14.4l-12.3 -8.6l0 -3.3l17 -0.1zM428.3 1364.2l3.5 0l3.8 15l15.8 0.1l0 3.3l-11 8.6l4.1 14.4l-3.5 0.6l-11.1 -7.8l-10.9 7.8l-3.6 -0.6l4.2 -14.4l-12.3 -8.6l0 -3.3l17 -0.1zM431.3 1364.3l3.5 0l3.8 15l15.8 0.1l0 3.3l-11 8.6l4.1 14.4l-3.5 0.6l-11.1 -7.8l-10.9 7.8l-3.6 -0.6l4.2 -14.4l-12.3 -8.6l0 -3.3l17 -0.1zM434.4 1364.4l3.5 0l3.8 15l15.8 0.1l0 3.3l-11 8.6l4.1 14.4l-3.5 0.6l-11.1 -7.8l-10.9 7.8l-3.6 -0.6l4.2 -14.4l-12.3 -8.6l0 -3.3l17 -0.1zM437.4 1364.5l3.5 0l3.8 15l15.8 0.1l0 3.3l-11 8.6l4.1 14.4l-3.5 0.6l-11.1 -7.8l-10.9 7.8l-3.6 -0.6l4.2 -14.4l-12.3 -8.6l0 -3.3l17 -0.1zM440.5 1364.6l3.5 0l3.8 15l15.8 0.1l0 3.3l-11 8.6l4.1 14.4l-3.5 0.6l-11.1 -7.8l-10.9 7.8l-3.6 -0.6l4.2 -14.4l-12.3 -8.6l0 -3.3l17 -0.1zM443.6 1364.7l3.5 0l3.8 15l15.8 0.1l0 3.3l-11 8.6l4.1 14.4l-3.5 0.6l-11.1 -7.8l-10.9 7.8l-3.6 -0.6l4.2 -14.4l-12.3 -8.6l0 -3.3l17 -0.1zM446.7 1364.9l3.5 0l3.8 15l15.8 0.1l0 3.3l-11 8.6l4.1 14.4l-3.5 0.6l-11.1 -7.8l-10.9 7.8l-3.6 -0.6l4.2 -14.4l-12.3 -8.6l0 -3.3l17 -0.1zM449.8 1365l3.5 0l3.8 15l15.8 0.1l0 3.3l-11 8.6l4.1 14.4l-3.5 0.6l-11.1 -7.8l-10.9 7.8l-3.6 -0.6l4.2 -14.4l-12.3 -8.6l0 -3.3l17 -0.1zM452.9 1365.1l3.5 0l3.8 15l15.8 0.1l0 3.3l-11 8.6l4.1 14.4l-3.5 0.6l-11.1 -7.8l-10.9 7.8l-3.6 -0.6l4.2 -14.4l-12.3 -8.6l0 -3.3l17 -0.1zM456 1365.2l3.5 0l3.8 15l15.8 0.1l0 3.3l-11 8.6l4.1 14.4l-3.5 0.6l-11.1 -7.8l-10.9 7.8l-3.6 -0.6l4.2 -14.4l-12.3 -8.6l0 -3.3l17 -0.1zM459.2 1365.3l3.5 0l3.8 15l15.8 0.1l0 3.3l-11 8.6l4.1 14.4l-3.5 0.6l-11.1 -7.8l-10.9 7.8l-3.6 -0.6l4.2 -14.4l-12.3 -8.6l0 -3.3l17 -0.1zM462.4 1365.4l3.5 0l3.8 15l15.8 0.1l0 3.3l-11 8.6l4.1 14.4l-3.5 0.6l-11.1 -7.8l-10.9 7.8l-3.6 -0.6l4.2 -14.4l-12.3 -8.6l0 -3.3l17 -0.1zM465.6 1365.5l3.5 0l3.8 15l15.8 0.1l0 3.3l-11 8.6l4.1 14.4l-3.5 0.6l-11.1 -7.8l-10.9 7.8l-3.6 -0.6l4.2 -14.4l-12.3 -8.6l0 -3.3l17 -0.1zM468.8 1365.6l3.5 0l3.8 15l15.8 0.1l0 3.3l-11 8.6l4.1 14.4l-3.5 0.6l-11.1 -7.8l-10.9 7.8l-3.6 -0.6l4.2 -14.4l-12.3 -8.6l0 -3.3l17 -0.1zM472 1365.8l3.5 0l3.8 15l15.8 0.1l0 3.3l-11 8.6l4.1 14.4l-3.5 0.6l-11.1 -7.8l-10.9 7.8l-3.6 -0.6l4.2 -14.4l-12.3 -8.6l0 -3.3l17 -0.1zM475.3 1365.9l3.5 0l3.8 15l15.8 0.1l0 3.3l-11 8.6l4.1 14.4l-3.5 0.6l-11.1 -7.8l-10.9 7.8l-3.6 -0.6l4.2 -14.4l-12.3 -8.6l0 -3.3l17 -0.1zM478.5 1366l3.5 0l3.8 15l15.8 0.1l0 3.3l-11 8.6l4.1 14.4l-3.5 0.6l-11.1 -7.8l-10.9 7.8l-3.6 -0.6l4.2 -14.4l-12.3 -8.6l0 -3.3l17 -0.1zM481.8 1366.1l3.5 0l3.8 15l15.8 0.1l0 3.3l-11 8.6l4.1 14.4l-3.5 0.6l-11.1 -7.8l-10.9 7.8l-3.6 -0.6l4.2 -14.4l-12.3 -8.6l0 -3.3l17 -0.1zM485.1 1366.2l3.5 0l3.8 15l15.8 0.1l0 3.3l-11 8.6l4.1 14.4l-3.5 0.6l-11.1 -7.8l-10.9 7.8l-3.6 -0.6l4.2 -14.4l-12.3 -8.6l0 -3.3l17 -0.1zM488.4 1366.3l3.5 0l3.8 15l15.8 0.1l0 3.3l-11 8.6l4.1 14.4l-3.5 0.6l-11.1 -7.8l-10.9 7.8l-3.6 -0.6l4.2 -14.4l-12.3 -8.6l0 -3.3l17 -0.1zM491.8 1366.4l3.5 0l3.8 15l15.8 0.1l0 3.3l-11 8.6l4.1 14.4l-3.5 0.6l-11.1 -7.8l-10.9 7.8l-3.6 -0.6l4.2 -14.4l-12.3 -8.6l0 -3.3l17 -0.1zM495.1 1366.5l3.5 0l3.8 15l15.8 0.1l0 3.3l-11 8.6l4.1 14.4l-3.5 0.6l-11.1 -7.8l-10.9 7.8l-3.6 -0.6l4.2 -14.4l-12.3 -8.6l0 -3.3l17 -0.1zM498.5 1366.6l3.5 0l3.8 15l15.8 0.1l0 3.3l-11 8.6l4.1 14.4l-3.5 0.6l-11.1 -7.8l-10.9 7.8l-3.6 -0.6l4.2 -14.4l-12.3 -8.6l0 -3.3l17 -0.1zM501.9 1366.7l3.5 0l3.8 15l15.8 0.1l0 3.3l-11 8.6l4.1 14.4l-3.5 0.6l-11.1 -7.8l-10.9 7.8l-3.6 -0.6l4.2 -14.4l-12.3 -8.6l0 -3.3l17 -0.1zM505.3 1366.8l3.5 0l3.8 15l15.8 0.1l0 3.3l-11 8.6l4.1 14.4l-3.5 0.6l-11.1 -7.8l-10.9 7.8l-3.6 -0.6l4.2 -14.4l-12.3 -8.6l0 -3.3l17 -0.1zM508.7 1366.9l3.5 0l3.8 15l15.8 0.1l0 3.3l-11 8.6l4.1 14.4l-3.5 0.6l-11.1 -7.8l-10.9 7.8l-3.6 -0.6l4.2 -14.4l-12.3 -8.6l0 -3.3l17 -0.1zM512.2 1367l3.5 0l3.8 15l15.8 0.1l0 3.3l-11 8.6l4.1 14.4l-3.5 0.6l-11.1 -7.8l-10.9 7.8l-3.6 -0.6l4.2 -14.4l-12.3 -8.6l0 -3.3l17 -0.1zM515.6 1367.1l3.5 0l3.8 15l15.8 0.1l0 3.3l-11 8.6l4.1 14.4l-3.5 0.6l-11.1 -7.8l-10.9 7.8l-3.6 -0.6l4.2 -14.4l-12.3 -8.6l0 -3.3l17 -0.1zM519.1 1367.1l3.5 0l3.8 15l15.8 0.1l0 3.3l-11 8.6l4.1 14.4l-3.5 0.6l-11.1 -7.8l-10.9 7.8l-3.6 -0.6l4.2 -14.4l-12.3 -8.6l0 -3.3l17 -0.1zM522.6 1367.2l3.5 0l3.8 15l15.8 0.1l0 3.3l-11 8.6l4.1 14.4l-3.5 0.6l-11.1 -7.8l-10.9 7.8l-3.6 -0.6l4.2 -14.4l-12.3 -8.6l0 -3.3l17 -0.1zM526.1 1367.3l3.5 0l3.8 15l15.8 0.1l0 3.3l-11 8.6l4.1 14.4l-3.5 0.6l-11.1 -7.8l-10.9 7.8l-3.6 -0.6l4.2 -14.4l-12.3 -8.6l0 -3.3l17 -0.1zM529.7 1367.4l3.5 0l3.8 15l15.8 0.1l0 3.3l-11 8.6l4.1 14.4l-3.5 0.6l-11.1 -7.8l-10.9 7.8l-3.6 -0.6l4.2 -14.4l-12.3 -8.6l0 -3.3l17 -0.1zM533.2 1367.4l3.5 0l3.8 15l15.8 0.1l0 3.3l-11 8.6l4.1 14.4l-3.5 0.6l-11.1 -7.8l-10.9 7.8l-3.6 -0.6l4.2 -14.4l-12.3 -8.6l0 -3.3l17 -0.1zM536.8 1367.5l3.5 0l3.8 15l15.8 0.1l0 3.3l-11 8.6l4.1 14.4l-3.5 0.6l-11.1 -7.8l-10.9 7.8l-3.6 -0.6l4.2 -14.4l-12.3 -8.6l0 -3.3l17 -0.1zM540.4 1367.5l3.5 0l3.8 15l15.8 0.1l0 3.3l-11 8.6l4.1 14.4l-3.5 0.6l-11.1 -7.8l-10.9 7.8l-3.6 -0.6l4.2 -14.4l-12.3 -8.6l0 -3.3l17 -0.1zM544 1367.6l3.5 0l3.8 15l15.8 0.1l0 3.3l-11 8.6l4.1 14.4l-3.5 0.6l-11.1 -7.8l-10.9 7.8l-3.6 -0.6l4.2 -14.4l-12.3 -8.6l0 -3.3l17 -0.1zM547.7 1367.6l3.5 0l3.8 15l15.8 0.1l0 3.3l-11 8.6l4.1 14.4l-3.5 0.6l-11.1 -7.8l-10.9 7.8l-3.6 -0.6l4.2 -14.4l-12.3 -8.6l0 -3.3l17 -0.1zM551.3 1367.6l3.5 0l3.8 15l15.8 0.1l0 3.3l-11 8.6l4.1 14.4l-3.5 0.6l-11.1 -7.8l-10.9 7.8l-3.6 -0.6l4.2 -14.4l-12.3 -8.6l0 -3.3l17 -0.1zM555 1367.7l3.5 0l3.8 15l15.8 0.1l0 3.3l-11 8.6l4.1 14.4l-3.5 0.6l-11.1 -7.8l-10.9 7.8l-3.6 -0.6l4.2 -14.4l-12.3 -8.6l0 -3.3l17 -0.1zM558.7 1367.7l3.5 0l3.8 15l15.8 0.1l0 3.3l-11 8.6l4.1 14.4l-3.5 0.6l-11.1 -7.8l-10.9 7.8l-3.6 -0.6l4.2 -14.4l-12.3 -8.6l0 -3.3l17 -0.1zM562.5 1367.7l3.5 0l3.8 15l15.8 0.1l0 3.3l-11 8.6l4.1 14.4l-3.5 0.6l-11.1 -7.8l-10.9 7.8l-3.6 -0.6l4.2 -14.4l-12.3 -8.6l0 -3.3l17 -0.1zM566.2 1367.8l3.5 0l3.8 15l15.8 0.1l0 3.3l-11 8.6l4.1 14.4l-3.5 0.6l-11.1 -7.8l-10.9 7.8l-3.6 -0.6l4.2 -14.4l-12.3 -8.6l0 -3.3l17 -0.1zM570 1367.8l3.5 0l3.8 15l15.8 0.1l0 3.3l-11 8.6l4.1 14.4l-3.5 0.6l-11.1 -7.8l-10.9 7.8l-3.6 -0.6l4.2 -14.4l-12.3 -8.6l0 -3.3l17 -0.1zM573.8 1367.8l3.5 0l3.8 15l15.8 0.1l0 3.3l-11 8.6l4.1 14.4l-3.5 0.6l-11.1 -7.8l-10.9 7.8l-3.6 -0.6l4.2 -14.4l-12.3 -8.6l0 -3.3l17 -0.1zM577.6 1367.8l3.5 0l3.8 15l15.8 0.1l0 3.3l-11 8.6l4.1 14.4l-3.5 0.6l-11.1 -7.8l-10.9 7.8l-3.6 -0.6l4.2 -14.4l-12.3 -8.6l0 -3.3l17 -0.1zM581.4 1367.9l3.5 0l3.8 15l15.8 0.1l0 3.3l-11 8.6l4.1 14.4l-3.5 0.6l-11.1 -7.8l-10.9 7.8l-3.6 -0.6l4.2 -14.4l-12.3 -8.6l0 -3.3l17 -0.1zM585.3 1367.9l3.5 0l3.8 15l15.8 0.1l0 3.3l-11 8.6l4.1 14.4l-3.5 0.6l-11.1 -7.8l-10.9 7.8l-3.6 -0.6l4.2 -14.4l-12.3 -8.6l0 -3.3l17 -0.1zM589.1 1367.9l3.5 0l3.8 15l15.8 0.1l0 3.3l-11 8.6l4.1 14.4l-3.5 0.6l-11.1 -7.8l-10.9 7.8l-3.6 -0.6l4.2 -14.4l-12.3 -8.6l0 -3.3l17 -0.1zM593 1368l3.5 0l3.8 15l15.8 0.1l0 3.3l-11 8.6l4.1 14.4l-3.5 0.6l-11.1 -7.8l-10.9 7.8l-3.6 -0.6l4.2 -14.4l-12.3 -8.6l0 -3.3l17 -0.1zM597 1368l3.5 0l3.8 15l15.8 0.1l0 3.3l-11 8.6l4.1 14.4l-3.5 0.6l-11.1 -7.8l-10.9 7.8l-3.6 -0.6l4.2 -14.4l-12.3 -8.6l0 -3.3l17 -0.1zM600.9 1368l3.5 0l3.8 15l15.8 0.1l0 3.3l-11 8.6l4.1 14.4l-3.5 0.6l-11.1 -7.8l-10.9 7.8l-3.6 -0.6l4.2 -14.4l-12.3 -8.6l0 -3.3l17 -0.1zM604.9 1368l3.5 0l3.8 15l15.8 0.1l0 3.3l-11 8.6l4.1 14.4l-3.5 0.6l-11.1 -7.8l-10.9 7.8l-3.6 -0.6l4.2 -14.4l-12.3 -8.6l0 -3.3l17 -0.1zM608.9 1368.1l3.5 0l3.8 15l15.8 0.1l0 3.3l-11 8.6l4.1 14.4l-3.5 0.6l-11.1 -7.8l-10.9 7.8l-3.6 -0.6l4.2 -14.4l-12.3 -8.6l0 -3.3l17 -0.1zM612.9 1368.1l3.5 0l3.8 15l15.8 0.1l0 3.3l-11 8.6l4.1 14.4l-3.5 0.6l-11.1 -7.8l-10.9 7.8l-3.6 -0.6l4.2 -14.4l-12.3 -8.6l0 -3.3l17 -0.1zM616.9 1368.1l3.5 0l3.8 15l15.8 0.1l0 3.3l-11 8.6l4.1 14.4l-3.5 0.6l-11.1 -7.8l-10.9 7.8l-3.6 -0.6l4.2 -14.4l-12.3 -8.6l0 -3.3l17 -0.1zM621 1368.1l3.5 0l3.8 15l15.8 0.1l0 3.3l-11 8.6l4.1 14.4l-3.5 0.6l-11.1 -7.8l-10.9 7.8l-3.6 -0.6l4.2 -14.4l-12.3 -8.6l0 -3.3l17 -0.1zM625.1 1368.2l3.5 0l3.8 15l15.8 0.1l0 3.3l-11 8.6l4.1 14.4l-3.5 0.6l-11.1 -7.8l-10.9 7.8l-3.6 -0.6l4.2 -14.4l-12.3 -8.6l0 -3.3l17 -0.1zM629.2 1368.2l3.5 0l3.8 15l15.8 0.1l0 3.3l-11 8.6l4.1 14.4l-3.5 0.6l-11.1 -7.8l-10.9 7.8l-3.6 -0.6l4.2 -14.4l-12.3 -8.6l0 -3.3l17 -0.1zM633.3 1368.2l3.5 0l3.8 15l15.8 0.1l0 3.3l-11 8.6l4.1 14.4l-3.5 0.6l-11.1 -7.8l-10.9 7.8l-3.6 -0.6l4.2 -14.4l-12.3 -8.6l0 -3.3l17 -0.1zM637.5 1368.2l3.5 0l3.8 15l15.8 0.1l0 3.3l-11 8.6l4.1 14.4l-3.5 0.6l-11.1 -7.8l-10.9 7.8l-3.6 -0.6l4.2 -14.4l-12.3 -8.6l0 -3.3l17 -0.1zM641.7 1368.3l3.5 0l3.8 15l15.8 0.1l0 3.3l-11 8.6l4.1 14.4l-3.5 0.6l-11.1 -7.8l-10.9 7.8l-3.6 -0.6l4.2 -14.4l-12.3 -8.6l0 -3.3l17 -0.1zM645.9 1368.3l3.5 0l3.8 15l15.8 0.1l0 3.3l-11 8.6l4.1 14.4l-3.5 0.6l-11.1 -7.8l-10.9 7.8l-3.6 -0.6l4.2 -14.4l-12.3 -8.6l0 -3.3l17 -0.1zM650.2 1368.3l3.5 0l3.8 15l15.8 0.1l0 3.3l-11 8.6l4.1 14.4l-3.5 0.6l-11.1 -7.8l-10.9 7.8l-3.6 -0.6l4.2 -14.4l-12.3 -8.6l0 -3.3l17 -0.1zM654.4 1368.3l3.5 0l3.8 15l15.8 0.1l0 3.3l-11 8.6l4.1 14.4l-3.5 0.6l-11.1 -7.8l-10.9 7.8l-3.6 -0.6l4.2 -14.4l-12.3 -8.6l0 -3.3l17 -0.1zM658.7 1368.3l3.5 0l3.8 15l15.8 0.1l0 3.3l-11 8.6l4.1 14.4l-3.5 0.6l-11.1 -7.8l-10.9 7.8l-3.6 -0.6l4.2 -14.4l-12.3 -8.6l0 -3.3l17 -0.1zM663 1368.4l3.5 0l3.8 15l15.8 0.1l0 3.3l-11 8.6l4.1 14.4l-3.5 0.6l-11.1 -7.8l-10.9 7.8l-3.6 -0.6l4.2 -14.4l-12.3 -8.6l0 -3.3l17 -0.1zM667.4 1368.4l3.5 0l3.8 15l15.8 0.1l0 3.3l-11 8.6l4.1 14.4l-3.5 0.6l-11.1 -7.8l-10.9 7.8l-3.6 -0.6l4.2 -14.4l-12.3 -8.6l0 -3.3l17 -0.1zM671.7 1368.4l3.5 0l3.8 15l15.8 0.1l0 3.3l-11 8.6l4.1 14.4l-3.5 0.6l-11.1 -7.8l-10.9 7.8l-3.6 -0.6l4.2 -14.4l-12.3 -8.6l0 -3.3l17 -0.1zM676.1 1368.4l3.5 0l3.8 15l15.8 0.1l0 3.3l-11 8.6l4.1 14.4l-3.5 0.6l-11.1 -7.8l-10.9 7.8l-3.6 -0.6l4.2 -14.4l-12.3 -8.6l0 -3.3l17 -0.1zM680.6 1368.4l3.5 0l3.8 15l15.8 0.1l0 3.3l-11 8.6l4.1 14.4l-3.5 0.6l-11.1 -7.8l-10.9 7.8l-3.6 -0.6l4.2 -14.4l-12.3 -8.6l0 -3.3l17 -0.1zM685 1368.4l3.5 0l3.8 15l15.8 0.1l0 3.3l-11 8.6l4.1 14.4l-3.5 0.6l-11.1 -7.8l-10.9 7.8l-3.6 -0.6l4.2 -14.4l-12.3 -8.6l0 -3.3l17 -0.1zM689.5 1368.5l3.5 0l3.8 15l15.8 0.1l0 3.3l-11 8.6l4.1 14.4l-3.5 0.6l-11.1 -7.8l-10.9 7.8l-3.6 -0.6l4.2 -14.4l-12.3 -8.6l0 -3.3l17 -0.1zM694 1368.5l3.5 0l3.8 15l15.8 0.1l0 3.3l-11 8.6l4.1 14.4l-3.5 0.6l-11.1 -7.8l-10.9 7.8l-3.6 -0.6l4.2 -14.4l-12.3 -8.6l0 -3.3l17 -0.1zM698.5 1368.5l3.5 0l3.8 15l15.8 0.1l0 3.3l-11 8.6l4.1 14.4l-3.5 0.6l-11.1 -7.8l-10.9 7.8l-3.6 -0.6l4.2 -14.4l-12.3 -8.6l0 -3.3l17 -0.1zM703.1 1368.5l3.5 0l3.8 15l15.8 0.1l0 3.3l-11 8.6l4.1 14.4l-3.5 0.6l-11.1 -7.8l-10.9 7.8l-3.6 -0.6l4.2 -14.4l-12.3 -8.6l0 -3.3l17 -0.1zM707.7 1368.5l3.5 0l3.8 15l15.8 0.1l0 3.3l-11 8.6l4.1 14.4l-3.5 0.6l-11.1 -7.8l-10.9 7.8l-3.6 -0.6l4.2 -14.4l-12.3 -8.6l0 -3.3l17 -0.1zM712.3 1368.5l3.5 0l3.8 15l15.8 0.1l0 3.3l-11 8.6l4.1 14.4l-3.5 0.6l-11.1 -7.8l-10.9 7.8l-3.6 -0.6l4.2 -14.4l-12.3 -8.6l0 -3.3l17 -0.1zM717 1368.5l3.5 0l3.8 15l15.8 0.1l0 3.3l-11 8.6l4.1 14.4l-3.5 0.6l-11.1 -7.8l-10.9 7.8l-3.6 -0.6l4.2 -14.4l-12.3 -8.6l0 -3.3l17 -0.1zM721.7 1368.5l3.5 0l3.8 15l15.8 0.1l0 3.3l-11 8.6l4.1 14.4l-3.5 0.6l-11.1 -7.8l-10.9 7.8l-3.6 -0.6l4.2 -14.4l-12.3 -8.6l0 -3.3l17 -0.1zM726.4 1368.5l3.5 0l3.8 15l15.8 0.1l0 3.3l-11 8.6l4.1 14.4l-3.5 0.6l-11.1 -7.8l-10.9 7.8l-3.6 -0.6l4.2 -14.4l-12.3 -8.6l0 -3.3l17 -0.1zM731.1 1368.5l3.5 0l3.8 15l15.8 0.1l0 3.3l-11 8.6l4.1 14.4l-3.5 0.6l-11.1 -7.8l-10.9 7.8l-3.6 -0.6l4.2 -14.4l-12.3 -8.6l0 -3.3l17 -0.1zM735.9 1368.5l3.5 0l3.8 15l15.8 0.1l0 3.3l-11 8.6l4.1 14.4l-3.5 0.6l-11.1 -7.8l-10.9 7.8l-3.6 -0.6l4.2 -14.4l-12.3 -8.6l0 -3.3l17 -0.1zM740.7 1368.4l3.5 0l3.8 15l15.8 0.1l0 3.3l-11 8.6l4.1 14.4l-3.5 0.6l-11.1 -7.8l-10.9 7.8l-3.6 -0.6l4.2 -14.4l-12.3 -8.6l0 -3.3l17 -0.1zM745.5 1368.3l3.5 0l3.8 15l15.8 0.1l0 3.3l-11 8.6l4.1 14.4l-3.5 0.6l-11.1 -7.8l-10.9 7.8l-3.6 -0.6l4.2 -14.4l-12.3 -8.6l0 -3.3l17 -0.1zM750.4 1368.1l3.5 0l3.8 15l15.8 0.1l0 3.3l-11 8.6l4.1 14.4l-3.5 0.6l-11.1 -7.8l-10.9 7.8l-3.6 -0.6l4.2 -14.4l-12.3 -8.6l0 -3.3l17 -0.1zM755.3 1368l3.5 0l3.8 15l15.8 0.1l0 3.3l-11 8.6l4.1 14.4l-3.5 0.6l-11.1 -7.8l-10.9 7.8l-3.6 -0.6l4.2 -14.4l-12.3 -8.6l0 -3.3l17 -0.1zM760.2 1367.8l3.5 0l3.8 15l15.8 0.1l0 3.3l-11 8.6l4.1 14.4l-3.5 0.6l-11.1 -7.8l-10.9 7.8l-3.6 -0.6l4.2 -14.4l-12.3 -8.6l0 -3.3l17 -0.1zM765.2 1367.5l3.5 0l3.8 15l15.8 0.1l0 3.3l-11 8.6l4.1 14.4l-3.5 0.6l-11.1 -7.8l-10.9 7.8l-3.6 -0.6l4.2 -14.4l-12.3 -8.6l0 -3.3l17 -0.1zM770.2 1367.3l3.5 0l3.8 15l15.8 0.1l0 3.3l-11 8.6l4.1 14.4l-3.5 0.6l-11.1 -7.8l-10.9 7.8l-3.6 -0.6l4.2 -14.4l-12.3 -8.6l0 -3.3l17 -0.1zM775.2 1367.1l3.5 0l3.8 15l15.8 0.1l0 3.3l-11 8.6l4.1 14.4l-3.5 0.6l-11.1 -7.8l-10.9 7.8l-3.6 -0.6l4.2 -14.4l-12.3 -8.6l0 -3.3l17 -0.1zM780.3 1366.8l3.5 0l3.8 15l15.8 0.1l0 3.3l-11 8.6l4.1 14.4l-3.5 0.6l-11.1 -7.8l-10.9 7.8l-3.6 -0.6l4.2 -14.4l-12.3 -8.6l0 -3.3l17 -0.1zM785.4 1366.5l3.5 0l3.8 15l15.8 0.1l0 3.3l-11 8.6l4.1 14.4l-3.5 0.6l-11.1 -7.8l-10.9 7.8l-3.6 -0.6l4.2 -14.4l-12.3 -8.6l0 -3.3l17 -0.1zM790.5 1366.2l3.5 0l3.8 15l15.8 0.1l0 3.3l-11 8.6l4.1 14.4l-3.5 0.6l-11.1 -7.8l-10.9 7.8l-3.6 -0.6l4.2 -14.4l-12.3 -8.6l0 -3.3l17 -0.1zM795.7 1365.9l3.5 0l3.8 15l15.8 0.1l0 3.3l-11 8.6l4.1 14.4l-3.5 0.6l-11.1 -7.8l-10.9 7.8l-3.6 -0.6l4.2 -14.4l-12.3 -8.6l0 -3.3l17 -0.1zM800.9 1365.6l3.5 0l3.8 15l15.8 0.1l0 3.3l-11 8.6l4.1 14.4l-3.5 0.6l-11.1 -7.8l-10.9 7.8l-3.6 -0.6l4.2 -14.4l-12.3 -8.6l0 -3.3l17 -0.1zM806.1 1365.3l3.5 0l3.8 15l15.8 0.1l0 3.3l-11 8.6l4.1 14.4l-3.5 0.6l-11.1 -7.8l-10.9 7.8l-3.6 -0.6l4.2 -14.4l-12.3 -8.6l0 -3.3l17 -0.1zM811.4 1365l3.5 0l3.8 15l15.8 0.1l0 3.3l-11 8.6l4.1 14.4l-3.5 0.6l-11.1 -7.8l-10.9 7.8l-3.6 -0.6l4.2 -14.4l-12.3 -8.6l0 -3.3l17 -0.1zM816.7 1364.7l3.5 0l3.8 15l15.8 0.1l0 3.3l-11 8.6l4.1 14.4l-3.5 0.6l-11.1 -7.8l-10.9 7.8l-3.6 -0.6l4.2 -14.4l-12.3 -8.6l0 -3.3l17 -0.1zM822 1364.4l3.5 0l3.8 15l15.8 0.1l0 3.3l-11 8.6l4.1 14.4l-3.5 0.6l-11.1 -7.8l-10.9 7.8l-3.6 -0.6l4.2 -14.4l-12.3 -8.6l0 -3.3l17 -0.1zM827.4 1364.2l3.5 0l3.8 15l15.8 0.1l0 3.3l-11 8.6l4.1 14.4l-3.5 0.6l-11.1 -7.8l-10.9 7.8l-3.6 -0.6l4.2 -14.4l-12.3 -8.6l0 -3.3l17 -0.1zM832.8 1363.9l3.5 0l3.8 15l15.8 0.1l0 3.3l-11 8.6l4.1 14.4l-3.5 0.6l-11.1 -7.8l-10.9 7.8l-3.6 -0.6l4.2 -14.4l-12.3 -8.6l0 -3.3l17 -0.1zM838.3 1363.6l3.5 0l3.8 15l15.8 0.1l0 3.3l-11 8.6l4.1 14.4l-3.5 0.6l-11.1 -7.8l-10.9 7.8l-3.6 -0.6l4.2 -14.4l-12.3 -8.6l0 -3.3l17 -0.1zM843.8 1363.3l3.5 0l3.8 15l15.8 0.1l0 3.3l-11 8.6l4.1 14.4l-3.5 0.6l-11.1 -7.8l-10.9 7.8l-3.6 -0.6l4.2 -14.4l-12.3 -8.6l0 -3.3l17 -0.1zM849.3 1363l3.5 0l3.8 15l15.8 0.1l0 3.3l-11 8.6l4.1 14.4l-3.5 0.6l-11.1 -7.8l-10.9 7.8l-3.6 -0.6l4.2 -14.4l-12.3 -8.6l0 -3.3l17 -0.1zM854.9 1362.7l3.5 0l3.8 15l15.8 0.1l0 3.3l-11 8.6l4.1 14.4l-3.5 0.6l-11.1 -7.8l-10.9 7.8l-3.6 -0.6l4.2 -14.4l-12.3 -8.6l0 -3.3l17 -0.1zM860.5 1362.4l3.5 0l3.8 15l15.8 0.1l0 3.3l-11 8.6l4.1 14.4l-3.5 0.6l-11.1 -7.8l-10.9 7.8l-3.6 -0.6l4.2 -14.4l-12.3 -8.6l0 -3.3l17 -0.1zM866.1 1362.1l3.5 0l3.8 15l15.8 0.1l0 3.3l-11 8.6l4.1 14.4l-3.5 0.6l-11.1 -7.8l-10.9 7.8l-3.6 -0.6l4.2 -14.4l-12.3 -8.6l0 -3.3l17 -0.1zM871.8 1361.8l3.5 0l3.8 15l15.8 0.1l0 3.3l-11 8.6l4.1 14.4l-3.5 0.6l-11.1 -7.8l-10.9 7.8l-3.6 -0.6l4.2 -14.4l-12.3 -8.6l0 -3.3l17 -0.1zM877.6 1361.4l3.5 0l3.8 15l15.8 0.1l0 3.3l-11 8.6l4.1 14.4l-3.5 0.6l-11.1 -7.8l-10.9 7.8l-3.6 -0.6l4.2 -14.4l-12.3 -8.6l0 -3.3l17 -0.1zM883.3 1361.1l3.5 0l3.8 15l15.8 0.1l0 3.3l-11 8.6l4.1 14.4l-3.5 0.6l-11.1 -7.8l-10.9 7.8l-3.6 -0.6l4.2 -14.4l-12.3 -8.6l0 -3.3l17 -0.1zM889.1 1360.7l3.5 0l3.8 15l15.8 0.1l0 3.3l-11 8.6l4.1 14.4l-3.5 0.6l-11.1 -7.8l-10.9 7.8l-3.6 -0.6l4.2 -14.4l-12.3 -8.6l0 -3.3l17 -0.1zM895 1360.4l3.5 0l3.8 15l15.8 0.1l0 3.3l-11 8.6l4.1 14.4l-3.5 0.6l-11.1 -7.8l-10.9 7.8l-3.6 -0.6l4.2 -14.4l-12.3 -8.6l0 -3.3l17 -0.1zM900.9 1360l3.5 0l3.8 15l15.8 0.1l0 3.3l-11 8.6l4.1 14.4l-3.5 0.6l-11.1 -7.8l-10.9 7.8l-3.6 -0.6l4.2 -14.4l-12.3 -8.6l0 -3.3l17 -0.1zM906.8 1359.6l3.5 0l3.8 15l15.8 0.1l0 3.3l-11 8.6l4.1 14.4l-3.5 0.6l-11.1 -7.8l-10.9 7.8l-3.6 -0.6l4.2 -14.4l-12.3 -8.6l0 -3.3l17 -0.1zM912.8 1359.2l3.5 0l3.8 15l15.8 0.1l0 3.3l-11 8.6l4.1 14.4l-3.5 0.6l-11.1 -7.8l-10.9 7.8l-3.6 -0.6l4.2 -14.4l-12.3 -8.6l0 -3.3l17 -0.1zM918.8 1358.9l3.5 0l3.8 15l15.8 0.1l0 3.3l-11 8.6l4.1 14.4l-3.5 0.6l-11.1 -7.8l-10.9 7.8l-3.6 -0.6l4.2 -14.4l-12.3 -8.6l0 -3.3l17 -0.1zM924.9 1358.4l3.5 0l3.8 15l15.8 0.1l0 3.3l-11 8.6l4.1 14.4l-3.5 0.6l-11.1 -7.8l-10.9 7.8l-3.6 -0.6l4.2 -14.4l-12.3 -8.6l0 -3.3l17 -0.1zM931 1358l3.5 0l3.8 15l15.8 0.1l0 3.3l-11 8.6l4.1 14.4l-3.5 0.6l-11.1 -7.8l-10.9 7.8l-3.6 -0.6l4.2 -14.4l-12.3 -8.6l0 -3.3l17 -0.1zM937.1 1357.6l3.5 0l3.8 15l15.8 0.1l0 3.3l-11 8.6l4.1 14.4l-3.5 0.6l-11.1 -7.8l-10.9 7.8l-3.6 -0.6l4.2 -14.4l-12.3 -8.6l0 -3.3l17 -0.1zM943.3 1357.1l3.5 0l3.8 15l15.8 0.1l0 3.3l-11 8.6l4.1 14.4l-3.5 0.6l-11.1 -7.8l-10.9 7.8l-3.6 -0.6l4.2 -14.4l-12.3 -8.6l0 -3.3l17 -0.1zM949.6 1356.7l3.5 0l3.8 15l15.8 0.1l0 3.3l-11 8.6l4.1 14.4l-3.5 0.6l-11.1 -7.8l-10.9 7.8l-3.6 -0.6l4.2 -14.4l-12.3 -8.6l0 -3.3l17 -0.1zM955.9 1356.2l3.5 0l3.8 15l15.8 0.1l0 3.3l-11 8.6l4.1 14.4l-3.5 0.6l-11.1 -7.8l-10.9 7.8l-3.6 -0.6l4.2 -14.4l-12.3 -8.6l0 -3.3l17 -0.1zM962.2 1355.7l3.5 0l3.8 15l15.8 0.1l0 3.3l-11 8.6l4.1 14.4l-3.5 0.6l-11.1 -7.8l-10.9 7.8l-3.6 -0.6l4.2 -14.4l-12.3 -8.6l0 -3.3l17 -0.1zM968.6 1355.2l3.5 0l3.8 15l15.8 0.1l0 3.3l-11 8.6l4.1 14.4l-3.5 0.6l-11.1 -7.8l-10.9 7.8l-3.6 -0.6l4.2 -14.4l-12.3 -8.6l0 -3.3l17 -0.1zM975 1354.7l3.5 0l3.8 15l15.8 0.1l0 3.3l-11 8.6l4.1 14.4l-3.5 0.6l-11.1 -7.8l-10.9 7.8l-3.6 -0.6l4.2 -14.4l-12.3 -8.6l0 -3.3l17 -0.1zM981.5 1354.2l3.5 0l3.8 15l15.8 0.1l0 3.3l-11 8.6l4.1 14.4l-3.5 0.6l-11.1 -7.8l-10.9 7.8l-3.6 -0.6l4.2 -14.4l-12.3 -8.6l0 -3.3l17 -0.1zM988 1353.6l3.5 0l3.8 15l15.8 0.1l0 3.3l-11 8.6l4.1 14.4l-3.5 0.6l-11.1 -7.8l-10.9 7.8l-3.6 -0.6l4.2 -14.4l-12.3 -8.6l0 -3.3l17 -0.1zM994.6 1353.1l3.5 0l3.8 15l15.8 0.1l0 3.3l-11 8.6l4.1 14.4l-3.5 0.6l-11.1 -7.8l-10.9 7.8l-3.6 -0.6l4.2 -14.4l-12.3 -8.6l0 -3.3l17 -0.1zM1001.2 1352.6l3.5 0l3.8 15l15.8 0.1l0 3.3l-11 8.6l4.1 14.4l-3.5 0.6l-11.1 -7.8l-10.9 7.8l-3.6 -0.6l4.2 -14.4l-12.3 -8.6l0 -3.3l17 -0.1zM1007.9 1352.1l3.5 0l3.8 15l15.8 0.1l0 3.3l-11 8.6l4.1 14.4l-3.5 0.6l-11.1 -7.8l-10.9 7.8l-3.6 -0.6l4.2 -14.4l-12.3 -8.6l0 -3.3l17 -0.1zM1014.7 1351.6l3.5 0l3.8 15l15.8 0.1l0 3.3l-11 8.6l4.1 14.4l-3.5 0.6l-11.1 -7.8l-10.9 7.8l-3.6 -0.6l4.2 -14.4l-12.3 -8.6l0 -3.3l17 -0.1zM1021.4 1351.1l3.5 0l3.8 15l15.8 0.1l0 3.3l-11 8.6l4.1 14.4l-3.5 0.6l-11.1 -7.8l-10.9 7.8l-3.6 -0.6l4.2 -14.4l-12.3 -8.6l0 -3.3l17 -0.1zM1028.3 1350.6l3.5 0l3.8 15l15.8 0.1l0 3.3l-11 8.6l4.1 14.4l-3.5 0.6l-11.1 -7.8l-10.9 7.8l-3.6 -0.6l4.2 -14.4l-12.3 -8.6l0 -3.3l17 -0.1zM1035.2 1350l3.5 0l3.8 15l15.8 0.1l0 3.3l-11 8.6l4.1 14.4l-3.5 0.6l-11.1 -7.8l-10.9 7.8l-3.6 -0.6l4.2 -14.4l-12.3 -8.6l0 -3.3l17 -0.1zM1042.1 1349.5l3.5 0l3.8 15l15.8 0.1l0 3.3l-11 8.6l4.1 14.4l-3.5 0.6l-11.1 -7.8l-10.9 7.8l-3.6 -0.6l4.2 -14.4l-12.3 -8.6l0 -3.3l17 -0.1zM1049.1 1349l3.5 0l3.8 15l15.8 0.1l0 3.3l-11 8.6l4.1 14.4l-3.5 0.6l-11.1 -7.8l-10.9 7.8l-3.6 -0.6l4.2 -14.4l-12.3 -8.6l0 -3.3l17 -0.1zM1056.2 1348.5l3.5 0l3.8 15l15.8 0.1l0 3.3l-11 8.6l4.1 14.4l-3.5 0.6l-11.1 -7.8l-10.9 7.8l-3.6 -0.6l4.2 -14.4l-12.3 -8.6l0 -3.3l17 -0.1zM1063.3 1348.1l3.5 0l3.8 15l15.8 0.1l0 3.3l-11 8.6l4.1 14.4l-3.5 0.6l-11.1 -7.8l-10.9 7.8l-3.6 -0.6l4.2 -14.4l-12.3 -8.6l0 -3.3l17 -0.1zM1070.4 1347.6l3.5 0l3.8 15l15.8 0.1l0 3.3l-11 8.6l4.1 14.4l-3.5 0.6l-11.1 -7.8l-10.9 7.8l-3.6 -0.6l4.2 -14.4l-12.3 -8.6l0 -3.3l17 -0.1zM1077.6 1347.1l3.5 0l3.8 15l15.8 0.1l0 3.3l-11 8.6l4.1 14.4l-3.5 0.6l-11.1 -7.8l-10.9 7.8l-3.6 -0.6l4.2 -14.4l-12.3 -8.6l0 -3.3l17 -0.1zM1084.9 1346.6l3.5 0l3.8 15l15.8 0.1l0 3.3l-11 8.6l4.1 14.4l-3.5 0.6l-11.1 -7.8l-10.9 7.8l-3.6 -0.6l4.2 -14.4l-12.3 -8.6l0 -3.3l17 -0.1zM1092.3 1346.1l3.5 0l3.8 15l15.8 0.1l0 3.3l-11 8.6l4.1 14.4l-3.5 0.6l-11.1 -7.8l-10.9 7.8l-3.6 -0.6l4.2 -14.4l-12.3 -8.6l0 -3.3l17 -0.1zM1099.6 1345.6l3.5 0l3.8 15l15.8 0.1l0 3.3l-11 8.6l4.1 14.4l-3.5 0.6l-11.1 -7.8l-10.9 7.8l-3.6 -0.6l4.2 -14.4l-12.3 -8.6l0 -3.3l17 -0.1zM1107.1 1345l3.5 0l3.8 15l15.8 0.1l0 3.3l-11 8.6l4.1 14.4l-3.5 0.6l-11.1 -7.8l-10.9 7.8l-3.6 -0.6l4.2 -14.4l-12.3 -8.6l0 -3.3l17 -0.1zM1114.6 1344.6l3.5 0l3.8 15l15.8 0.1l0 3.3l-11 8.6l4.1 14.4l-3.5 0.6l-11.1 -7.8l-10.9 7.8l-3.6 -0.6l4.2 -14.4l-12.3 -8.6l0 -3.3l17 -0.1zM1122.2 1344.1l3.5 0l3.8 15l15.8 0.1l0 3.3l-11 8.6l4.1 14.4l-3.5 0.6l-11.1 -7.8l-10.9 7.8l-3.6 -0.6l4.2 -14.4l-12.3 -8.6l0 -3.3l17 -0.1zM1129.8 1343.6l3.5 0l3.8 15l15.8 0.1l0 3.3l-11 8.6l4.1 14.4l-3.5 0.6l-11.1 -7.8l-10.9 7.8l-3.6 -0.6l4.2 -14.4l-12.3 -8.6l0 -3.3l17 -0.1zM1137.5 1343l3.5 0l3.8 15l15.8 0.1l0 3.3l-11 8.6l4.1 14.4l-3.5 0.6l-11.1 -7.8l-10.9 7.8l-3.6 -0.6l4.2 -14.4l-12.3 -8.6l0 -3.3l17 -0.1zM1145.3 1342.5l3.5 0l3.8 15l15.8 0.1l0 3.3l-11 8.6l4.1 14.4l-3.5 0.6l-11.1 -7.8l-10.9 7.8l-3.6 -0.6l4.2 -14.4l-12.3 -8.6l0 -3.3l17 -0.1zM1153.1 1342l3.5 0l3.8 15l15.8 0.1l0 3.3l-11 8.6l4.1 14.4l-3.5 0.6l-11.1 -7.8l-10.9 7.8l-3.6 -0.6l4.2 -14.4l-12.3 -8.6l0 -3.3l17 -0.1zM1161 1341.5l3.5 0l3.8 15l15.8 0.1l0 3.3l-11 8.6l4.1 14.4l-3.5 0.6l-11.1 -7.8l-10.9 7.8l-3.6 -0.6l4.2 -14.4l-12.3 -8.6l0 -3.3l17 -0.1zM1169 1340.9l3.5 0l3.8 15l15.8 0.1l0 3.3l-11 8.6l4.1 14.4l-3.5 0.6l-11.1 -7.8l-10.9 7.8l-3.6 -0.6l4.2 -14.4l-12.3 -8.6l0 -3.3l17 -0.1zM1177 1340.3l3.5 0l3.8 15l15.8 0.1l0 3.3l-11 8.6l4.1 14.4l-3.5 0.6l-11.1 -7.8l-10.9 7.8l-3.6 -0.6l4.2 -14.4l-12.3 -8.6l0 -3.3l17 -0.1zM1185.1 1339.7l3.5 0l3.8 15l15.8 0.1l0 3.3l-11 8.6l4.1 14.4l-3.5 0.6l-11.1 -7.8l-10.9 7.8l-3.6 -0.6l4.2 -14.4l-12.3 -8.6l0 -3.3l17 -0.1zM1193.2 1339.1l3.5 0l3.8 15l15.8 0.1l0 3.3l-11 8.6l4.1 14.4l-3.5 0.6l-11.1 -7.8l-10.9 7.8l-3.6 -0.6l4.2 -14.4l-12.3 -8.6l0 -3.3l17 -0.1zM1201.5 1338.4l3.5 0l3.8 15l15.8 0.1l0 3.3l-11 8.6l4.1 14.4l-3.5 0.6l-11.1 -7.8l-10.9 7.8l-3.6 -0.6l4.2 -14.4l-12.3 -8.6l0 -3.3l17 -0.1zM1209.8 1337.8l3.5 0l3.8 15l15.8 0.1l0 3.3l-11 8.6l4.1 14.4l-3.5 0.6l-11.1 -7.8l-10.9 7.8l-3.6 -0.6l4.2 -14.4l-12.3 -8.6l0 -3.3l17 -0.1zM1218.1 1337.2l3.5 0l3.8 15l15.8 0.1l0 3.3l-11 8.6l4.1 14.4l-3.5 0.6l-11.1 -7.8l-10.9 7.8l-3.6 -0.6l4.2 -14.4l-12.3 -8.6l0 -3.3l17 -0.1zM1226.6 1336.5l3.5 0l3.8 15l15.8 0.1l0 3.3l-11 8.6l4.1 14.4l-3.5 0.6l-11.1 -7.8l-10.9 7.8l-3.6 -0.6l4.2 -14.4l-12.3 -8.6l0 -3.3l17 -0.1zM1235.1 1335.8l3.5 0l3.8 15l15.8 0.1l0 3.3l-11 8.6l4.1 14.4l-3.5 0.6l-11.1 -7.8l-10.9 7.8l-3.6 -0.6l4.2 -14.4l-12.3 -8.6l0 -3.3l17 -0.1zM1243.7 1335.1l3.5 0l3.8 15l15.8 0.1l0 3.3l-11 8.6l4.1 14.4l-3.5 0.6l-11.1 -7.8l-10.9 7.8l-3.6 -0.6l4.2 -14.4l-12.3 -8.6l0 -3.3l17 -0.1zM1252.4 1334.5l3.5 0l3.8 15l15.8 0.1l0 3.3l-11 8.6l4.1 14.4l-3.5 0.6l-11.1 -7.8l-10.9 7.8l-3.6 -0.6l4.2 -14.4l-12.3 -8.6l0 -3.3l17 -0.1zM1261.1 1333.7l3.5 0l3.8 15l15.8 0.1l0 3.3l-11 8.6l4.1 14.4l-3.5 0.6l-11.1 -7.8l-10.9 7.8l-3.6 -0.6l4.2 -14.4l-12.3 -8.6l0 -3.3l17 -0.1zM1269.9 1332.9l3.5 0l3.8 15l15.8 0.1l0 3.3l-11 8.6l4.1 14.4l-3.5 0.6l-11.1 -7.8l-10.9 7.8l-3.6 -0.6l4.2 -14.4l-12.3 -8.6l0 -3.3l17 -0.1zM1278.8 1332.1l3.5 0l3.8 15l15.8 0.1l0 3.3l-11 8.6l4.1 14.4l-3.5 0.6l-11.1 -7.8l-10.9 7.8l-3.6 -0.6l4.2 -14.4l-12.3 -8.6l0 -3.3l17 -0.1zM1287.8 1331.2l3.5 0l3.8 15l15.8 0.1l0 3.3l-11 8.6l4.1 14.4l-3.5 0.6l-11.1 -7.8l-10.9 7.8l-3.6 -0.6l4.2 -14.4l-12.3 -8.6l0 -3.3l17 -0.1zM1296.8 1330.1l3.5 0l3.8 15l15.8 0.1l0 3.3l-11 8.6l4.1 14.4l-3.5 0.6l-11.1 -7.8l-10.9 7.8l-3.6 -0.6l4.2 -14.4l-12.3 -8.6l0 -3.3l17 -0.1zM1306 1329.3l3.5 0l3.8 15l15.8 0.1l0 3.3l-11 8.6l4.1 14.4l-3.5 0.6l-11.1 -7.8l-10.9 7.8l-3.6 -0.6l4.2 -14.4l-12.3 -8.6l0 -3.3l17 -0.1zM1315.2 1328.3l3.5 0l3.8 15l15.8 0.1l0 3.3l-11 8.6l4.1 14.4l-3.5 0.6l-11.1 -7.8l-10.9 7.8l-3.6 -0.6l4.2 -14.4l-12.3 -8.6l0 -3.3l17 -0.1zM1324.5 1327.3l3.5 0l3.8 15l15.8 0.1l0 3.3l-11 8.6l4.1 14.4l-3.5 0.6l-11.1 -7.8l-10.9 7.8l-3.6 -0.6l4.2 -14.4l-12.3 -8.6l0 -3.3l17 -0.1zM1333.9 1326.3l3.5 0l3.8 15l15.8 0.1l0 3.3l-11 8.6l4.1 14.4l-3.5 0.6l-11.1 -7.8l-10.9 7.8l-3.6 -0.6l4.2 -14.4l-12.3 -8.6l0 -3.3l17 -0.1zM1343.3 1325.2l3.5 0l3.8 15l15.8 0.1l0 3.3l-11 8.6l4.1 14.4l-3.5 0.6l-11.1 -7.8l-10.9 7.8l-3.6 -0.6l4.2 -14.4l-12.3 -8.6l0 -3.3l17 -0.1zM1352.9 1324l3.5 0l3.8 15l15.8 0.1l0 3.3l-11 8.6l4.1 14.4l-3.5 0.6l-11.1 -7.8l-10.9 7.8l-3.6 -0.6l4.2 -14.4l-12.3 -8.6l0 -3.3l17 -0.1zM1362.5 1322.6l3.5 0l3.8 15l15.8 0.1l0 3.3l-11 8.6l4.1 14.4l-3.5 0.6l-11.1 -7.8l-10.9 7.8l-3.6 -0.6l4.2 -14.4l-12.3 -8.6l0 -3.3l17 -0.1zM1372.2 1321l3.5 0l3.8 15l15.8 0.1l0 3.3l-11 8.6l4.1 14.4l-3.5 0.6l-11.1 -7.8l-10.9 7.8l-3.6 -0.6l4.2 -14.4l-12.3 -8.6l0 -3.3l17 -0.1zM1382.1 1319.2l3.5 0l3.8 15l15.8 0.1l0 3.3l-11 8.6l4.1 14.4l-3.5 0.6l-11.1 -7.8l-10.9 7.8l-3.6 -0.6l4.2 -14.4l-12.3 -8.6l0 -3.3l17 -0.1zM1392 1316.9l3.5 0l3.8 15l15.8 0.1l0 3.3l-11 8.6l4.1 14.4l-3.5 0.6l-11.1 -7.8l-10.9 7.8l-3.6 -0.6l4.2 -14.4l-12.3 -8.6l0 -3.3l17 -0.1zM1402 1314.3l3.5 0l3.8 15l15.8 0.1l0 3.3l-11 8.6l4.1 14.4l-3.5 0.6l-11.1 -7.8l-10.9 7.8l-3.6 -0.6l4.2 -14.4l-12.3 -8.6l0 -3.3l17 -0.1zM1412.1 1311.3l3.5 0l3.8 15l15.8 0.1l0 3.3l-11 8.6l4.1 14.4l-3.5 0.6l-11.1 -7.8l-10.9 7.8l-3.6 -0.6l4.2 -14.4l-12.3 -8.6l0 -3.3l17 -0.1zM1422.3 1308.2l3.5 0l3.8 15l15.8 0.1l0 3.3l-11 8.6l4.1 14.4l-3.5 0.6l-11.1 -7.8l-10.9 7.8l-3.6 -0.6l4.2 -14.4l-12.3 -8.6l0 -3.3l17 -0.1zM1432.6 1304.8l3.5 0l3.8 15l15.8 0.1l0 3.3l-11 8.6l4.1 14.4l-3.5 0.6l-11.1 -7.8l-10.9 7.8l-3.6 -0.6l4.2 -14.4l-12.3 -8.6l0 -3.3l17 -0.1zM1442.9 1301.2l3.5 0l3.8 15l15.8 0.1l0 3.3l-11 8.6l4.1 14.4l-3.5 0.6l-11.1 -7.8l-10.9 7.8l-3.6 -0.6l4.2 -14.4l-12.3 -8.6l0 -3.3l17 -0.1zM1453.4 1297.5l3.5 0l3.8 15l15.8 0.1l0 3.3l-11 8.6l4.1 14.4l-3.5 0.6l-11.1 -7.8l-10.9 7.8l-3.6 -0.6l4.2 -14.4l-12.3 -8.6l0 -3.3l17 -0.1zM1464 1293.7l3.5 0l3.8 15l15.8 0.1l0 3.3l-11 8.6l4.1 14.4l-3.5 0.6l-11.1 -7.8l-10.9 7.8l-3.6 -0.6l4.2 -14.4l-12.3 -8.6l0 -3.3l17 -0.1zM1474.7 1290l3.5 0l3.8 15l15.8 0.1l0 3.3l-11 8.6l4.1 14.4l-3.5 0.6l-11.1 -7.8l-10.9 7.8l-3.6 -0.6l4.2 -14.4l-12.3 -8.6l0 -3.3l17 -0.1zM1485.5 1286l3.5 0l3.8 15l15.8 0.1l0 3.3l-11 8.6l4.1 14.4l-3.5 0.6l-11.1 -7.8l-10.9 7.8l-3.6 -0.6l4.2 -14.4l-12.3 -8.6l0 -3.3l17 -0.1zM1496.4 1280.9l3.5 0l3.8 15l15.8 0.1l0 3.3l-11 8.6l4.1 14.4l-3.5 0.6l-11.1 -7.8l-10.9 7.8l-3.6 -0.6l4.2 -14.4l-12.3 -8.6l0 -3.3l17 -0.1zM1507.4 1275.1l3.5 0l3.8 15l15.8 0.1l0 3.3l-11 8.6l4.1 14.4l-3.5 0.6l-11.1 -7.8l-10.9 7.8l-3.6 -0.6l4.2 -14.4l-12.3 -8.6l0 -3.3l17 -0.1zM1518.5 1270.1l3.5 0l3.8 15l15.8 0.1l0 3.3l-11 8.6l4.1 14.4l-3.5 0.6l-11.1 -7.8l-10.9 7.8l-3.6 -0.6l4.2 -14.4l-12.3 -8.6l0 -3.3l17 -0.1zM1529.8 1263.2l3.5 0l3.8 15l15.8 0.1l0 3.3l-11 8.6l4.1 14.4l-3.5 0.6l-11.1 -7.8l-10.9 7.8l-3.6 -0.6l4.2 -14.4l-12.3 -8.6l0 -3.3l17 -0.1zM1541.1 1255.9l3.5 0l3.8 15l15.8 0.1l0 3.3l-11 8.6l4.1 14.4l-3.5 0.6l-11.1 -7.8l-10.9 7.8l-3.6 -0.6l4.2 -14.4l-12.3 -8.6l0 -3.3l17 -0.1zM1552.5 1248l3.5 0l3.8 15l15.8 0.1l0 3.3l-11 8.6l4.1 14.4l-3.5 0.6l-11.1 -7.8l-10.9 7.8l-3.6 -0.6l4.2 -14.4l-12.3 -8.6l0 -3.3l17 -0.1zM1564.1 1238.9l3.5 0l3.8 15l15.8 0.1l0 3.3l-11 8.6l4.1 14.4l-3.5 0.6l-11.1 -7.8l-10.9 7.8l-3.6 -0.6l4.2 -14.4l-12.3 -8.6l0 -3.3l17 -0.1zM1575.8 1229l3.5 0l3.8 15l15.8 0.1l0 3.3l-11 8.6l4.1 14.4l-3.5 0.6l-11.1 -7.8l-10.9 7.8l-3.6 -0.6l4.2 -14.4l-12.3 -8.6l0 -3.3l17 -0.1zM1587.6 1218.1l3.5 0l3.8 15l15.8 0.1l0 3.3l-11 8.6l4.1 14.4l-3.5 0.6l-11.1 -7.8l-10.9 7.8l-3.6 -0.6l4.2 -14.4l-12.3 -8.6l0 -3.3l17 -0.1zM1599.5 1205.8l3.5 0l3.8 15l15.8 0.1l0 3.3l-11 8.6l4.1 14.4l-3.5 0.6l-11.1 -7.8l-10.9 7.8l-3.6 -0.6l4.2 -14.4l-12.3 -8.6l0 -3.3l17 -0.1zM1611.6 1193.1l3.5 0l3.8 15l15.8 0.1l0 3.3l-11 8.6l4.1 14.4l-3.5 0.6l-11.1 -7.8l-10.9 7.8l-3.6 -0.6l4.2 -14.4l-12.3 -8.6l0 -3.3l17 -0.1zM1623.7 1178.7l3.5 0l3.8 15l15.8 0.1l0 3.3l-11 8.6l4.1 14.4l-3.5 0.6l-11.1 -7.8l-10.9 7.8l-3.6 -0.6l4.2 -14.4l-12.3 -8.6l0 -3.3l17 -0.1zM1636 1163.8l3.5 0l3.8 15l15.8 0.1l0 3.3l-11 8.6l4.1 14.4l-3.5 0.6l-11.1 -7.8l-10.9 7.8l-3.6 -0.6l4.2 -14.4l-12.3 -8.6l0 -3.3l17 -0.1zM1648.4 1147l3.5 0l3.8 15l15.8 0.1l0 3.3l-11 8.6l4.1 14.4l-3.5 0.6l-11.1 -7.8l-10.9 7.8l-3.6 -0.6l4.2 -14.4l-12.3 -8.6l0 -3.3l17 -0.1zM1661 1127.1l3.5 0l3.8 15l15.8 0.1l0 3.3l-11 8.6l4.1 14.4l-3.5 0.6l-11.1 -7.8l-10.9 7.8l-3.6 -0.6l4.2 -14.4l-12.3 -8.6l0 -3.3l17 -0.1zM1673.7 1106.8l3.5 0l3.8 15l15.8 0.1l0 3.3l-11 8.6l4.1 14.4l-3.5 0.6l-11.1 -7.8l-10.9 7.8l-3.6 -0.6l4.2 -14.4l-12.3 -8.6l0 -3.3l17 -0.1zM1686.5 1083.2l3.5 0l3.8 15l15.8 0.1l0 3.3l-11 8.6l4.1 14.4l-3.5 0.6l-11.1 -7.8l-10.9 7.8l-3.6 -0.6l4.2 -14.4l-12.3 -8.6l0 -3.3l17 -0.1zM1699.4 1058.2l3.5 0l3.8 15l15.8 0.1l0 3.3l-11 8.6l4.1 14.4l-3.5 0.6l-11.1 -7.8l-10.9 7.8l-3.6 -0.6l4.2 -14.4l-12.3 -8.6l0 -3.3l17 -0.1zM1712.5 1029.9l3.5 0l3.8 15l15.8 0.1l0 3.3l-11 8.6l4.1 14.4l-3.5 0.6l-11.1 -7.8l-10.9 7.8l-3.6 -0.6l4.2 -14.4l-12.3 -8.6l0 -3.3l17 -0.1zM1725.8 996.1l3.5 0l3.8 15l15.8 0.1l0 3.3l-11 8.6l4.1 14.4l-3.5 0.6l-11.1 -7.8l-10.9 7.8l-3.6 -0.6l4.2 -14.4l-12.3 -8.6l0 -3.3l17 -0.1zM1739.1 958.4l3.5 0l3.8 15l15.8 0.1l0 3.3l-11 8.6l4.1 14.4l-3.5 0.6l-11.1 -7.8l-10.9 7.8l-3.6 -0.6l4.2 -14.4l-12.3 -8.6l0 -3.3l17 -0.1zM1752.7 915l3.5 0l3.8 15l15.8 0.1l0 3.3l-11 8.6l4.1 14.4l-3.5 0.6l-11.1 -7.8l-10.9 7.8l-3.6 -0.6l4.2 -14.4l-12.3 -8.6l0 -3.3l17 -0.1zM1766.3 865.8l3.5 0l3.8 15l15.8 0.1l0 3.3l-11 8.6l4.1 14.4l-3.5 0.6l-11.1 -7.8l-10.9 7.8l-3.6 -0.6l4.2 -14.4l-12.3 -8.6l0 -3.3l17 -0.1zM1780.2 810.8l3.5 0l3.8 15l15.8 0.1l0 3.3l-11 8.6l4.1 14.4l-3.5 0.6l-11.1 -7.8l-10.9 7.8l-3.6 -0.6l4.2 -14.4l-12.3 -8.6l0 -3.3l17 -0.1zM1794.1 749.2l3.5 0l3.8 15l15.8 0.1l0 3.3l-11 8.6l4.1 14.4l-3.5 0.6l-11.1 -7.8l-10.9 7.8l-3.6 -0.6l4.2 -14.4l-12.3 -8.6l0 -3.3l17 -0.1zM1808.3 680.3l3.5 0l3.8 15l15.8 0.1l0 3.3l-11 8.6l4.1 14.4l-3.5 0.6l-11.1 -7.8l-10.9 7.8l-3.6 -0.6l4.2 -14.4l-12.3 -8.6l0 -3.3l17 -0.1zM1822.5 603.8l3.5 0l3.8 15l15.8 0.1l0 3.3l-11 8.6l4.1 14.4l-3.5 0.6l-11.1 -7.8l-10.9 7.8l-3.6 -0.6l4.2 -14.4l-12.3 -8.6l0 -3.3l17 -0.1zM1837 519.8l3.5 0l3.8 15l15.8 0.1l0 3.3l-11 8.6l4.1 14.4l-3.5 0.6l-11.1 -7.8l-10.9 7.8l-3.6 -0.6l4.2 -14.4l-12.3 -8.6l0 -3.3l17 -0.1zM1851.6 432.9l3.5 0l3.8 15l15.8 0.1l0 3.3l-11 8.6l4.1 14.4l-3.5 0.6l-11.1 -7.8l-10.9 7.8l-3.6 -0.6l4.2 -14.4l-12.3 -8.6l0 -3.3l17 -0.1zM1866.4 347.9l3.5 0l3.8 15l15.8 0.1l0 3.3l-11 8.6l4.1 14.4l-3.5 0.6l-11.1 -7.8l-10.9 7.8l-3.6 -0.6l4.2 -14.4l-12.3 -8.6l0 -3.3l17 -0.1zM1881.3 272.3l3.5 0l3.8 15l15.8 0.1l0 3.3l-11 8.6l4.1 14.4l-3.5 0.6l-11.1 -7.8l-10.9 7.8l-3.6 -0.6l4.2 -14.4l-12.3 -8.6l0 -3.3l17 -0.1zM1896.4 221.9l3.5 0l3.8 15l15.8 0.1l0 3.3l-11 8.6l4.1 14.4l-3.5 0.6l-11.1 -7.8l-10.9 7.8l-3.6 -0.6l4.2 -14.4l-12.3 -8.6l0 -3.3l17 -0.1zM1911.7 196.7l3.5 0l3.8 15l15.8 0.1l0 3.3l-11 8.6l4.1 14.4l-3.5 0.6l-11.1 -7.8l-10.9 7.8l-3.6 -0.6l4.2 -14.4l-12.3 -8.6l0 -3.3l17 -0.1zM1927.2 193.2l3.5 0l3.8 15l15.8 0.1l0 3.3l-11 8.6l4.1 14.4l-3.5 0.6l-11.1 -7.8l-10.9 7.8l-3.6 -0.6l4.2 -14.4l-12.3 -8.6l0 -3.3l17 -0.1zM1942.8 201.1l3.5 0l3.8 15l15.8 0.1l0 3.3l-11 8.6l4.1 14.4l-3.5 0.6l-11.1 -7.8l-10.9 7.8l-3.6 -0.6l4.2 -14.4l-12.3 -8.6l0 -3.3l17 -0.1zM1958.7 202.3l3.5 0l3.8 15l15.8 0.1l0 3.3l-11 8.6l4.1 14.4l-3.5 0.6l-11.1 -7.8l-10.9 7.8l-3.6 -0.6l4.2 -14.4l-12.3 -8.6l0 -3.3l17 -0.1zM1974.7 202.3l3.5 0l3.8 15l15.8 0.1l0 3.3l-11 8.6l4.1 14.4l-3.5 0.6l-11.1 -7.8l-10.9 7.8l-3.6 -0.6l4.2 -14.4l-12.3 -8.6l0 -3.3l17 -0.1zM1990.9 212.9l3.5 0l3.8 15l15.8 0.1l0 3.3l-11 8.6l4.1 14.4l-3.5 0.6l-11.1 -7.8l-10.9 7.8l-3.6 -0.6l4.2 -14.4l-12.3 -8.6l0 -3.3l17 -0.1zM2007.3 224.2l3.5 0l3.8 15l15.8 0.1l0 3.3l-11 8.6l4.1 14.4l-3.5 0.6l-11.1 -7.8l-10.9 7.8l-3.6 -0.6l4.2 -14.4l-12.3 -8.6l0 -3.3l17 -0.1zM2023.9 224.2l3.5 0l3.8 15l15.8 0.1l0 3.3l-11 8.6l4.1 14.4l-3.5 0.6l-11.1 -7.8l-10.9 7.8l-3.6 -0.6l4.2 -14.4l-12.3 -8.6l0 -3.3l17 -0.1zM2040.7 238.3l3.5 0l3.8 15l15.8 0.1l0 3.3l-11 8.6l4.1 14.4l-3.5 0.6l-11.1 -7.8l-10.9 7.8l-3.6 -0.6l4.2 -14.4l-12.3 -8.6l0 -3.3l17 -0.1zM2057.7 245.4l3.5 0l3.8 15l15.8 0.1l0 3.3l-11 8.6l4.1 14.4l-3.5 0.6l-11.1 -7.8l-10.9 7.8l-3.6 -0.6l4.2 -14.4l-12.3 -8.6l0 -3.3l17 -0.1zM2075 257.1l3.5 0l3.8 15l15.8 0.1l0 3.3l-11 8.6l4.1 14.4l-3.5 0.6l-11.1 -7.8l-10.9 7.8l-3.6 -0.6l4.2 -14.4l-12.3 -8.6l0 -3.3l17 -0.1zM2082.7 264.1l3.5 0l3.8 15l15.8 0.1l0 3.3l-11 8.6l4.1 14.4l-3.5 0.6l-11.1 -7.8l-10.9 7.8l-3.6 -0.6l4.2 -14.4l-12.3 -8.6l0 -3.3l17 -0.1z" fill="#ff8000"/>
</g>
<g fill="#000" shape-rendering="crispEdges">
<rect x="175" y="30" width="11" height="1419"/>
<rect x="175" y="1438" width="1914" height="11"/>
<rect x="180" y="1282" width="29" height="11"/>
<rect x="180" y="1125.5" width="15" height="11"/>
<rect x="180" y="969" width="29" height="11"/>
<rect x="180" y="812.5" width="15" height="11"/>
<rect x="180" y="656" width="29" height="11"/>
<rect x="180" y="499.5" width="15" height="11"/>
<rect x="180" y="343" width="29" height="11"/>
<rect x="180" y="186.5" width="15" height="11"/>
<rect x="180" y="30" width="29" height="11"/>
<rect x="407" y="1429" width="11" height="14"/>
<rect x="639" y="1415" width="11" height="28"/>
<rect x="871" y="1429" width="11" height="14"/>
<rect x="1103" y="1415" width="11" height="28"/>
<rect x="1335" y="1429" width="11" height="14"/>
<rect x="1567" y="1415" width="11" height="28"/>
<rect x="1799" y="1429" width="11" height="14"/>
<rect x="2031" y="1415" width="11" height="28"/>
</g>
<text class="tk" x="152.5" y="54" text-anchor="end">10</text>
<text class="tk" x="151.3" y="366.3" text-anchor="end">8</text>
<text class="tk" x="151.1" y="679.4" text-anchor="end">6</text>
<text class="tk" x="150.3" y="992" text-anchor="end">4</text>
<text class="tk" x="150.7" y="1304.8" text-anchor="end">2</text>
<text class="tk" x="181.8" y="1522.2" text-anchor="middle">1.0</text>
<text class="tk" x="645.3" y="1522.2" text-anchor="middle">1.5</text>
<text class="tk" x="1109.6" y="1522.2" text-anchor="middle">2.0</text>
<text class="tk" x="1573.1" y="1522.2" text-anchor="middle">2.5</text>
<text class="tk" x="2037.4" y="1522.2" text-anchor="middle">3.0</text>
<text class="xt" transform="scale(1.05 1)" y="1616"><tspan x="929.5" font-size="81">h</tspan><tspan x="973.5" font-size="102" dy="2.5">υ </tspan><tspan x="1047.4" font-size="80" dy="-6.9">(</tspan><tspan x="1074" dy="4.4">e</tspan><tspan x="1110.5">V</tspan><tspan x="1172.5" font-size="80" dy="-4.4">)</tspan></text>
<text class="yt" transform="translate(94 850) rotate(-90)" y="0"><tspan x="0.7">α </tspan><tspan x="78.4">(</tspan><tspan x="109.1">c</tspan><tspan x="157.6">m</tspan><tspan x="237.6" font-size="62" dy="-36">-</tspan><tspan x="254.6" font-size="62">1</tspan><tspan x="292.3" dy="36">)</tspan></text>
<path d="M228 92 H380.8" stroke="#000" stroke-width="8" stroke-linecap="round" fill="none" shape-rendering="crispEdges"/>
<rect x="291" y="77" width="29" height="30" fill="#ff0000" shape-rendering="crispEdges"/>
<text class="lg" transform="translate(399.9 116) scale(0.95 1)">SMG0.0</text>
<path d="M228 177.1 H380.8" stroke="#000" stroke-width="8" stroke-linecap="round" fill="none" shape-rendering="crispEdges"/>
<ellipse cx="304.4" cy="176.8" rx="15.6" ry="16.05" fill="#0000ff" shape-rendering="crispEdges"/>
<text class="lg" transform="translate(399.9 201.1) scale(0.95 1)">SMG0.2</text>
<path d="M228 262.2 H380.8" stroke="#000" stroke-width="8" stroke-linecap="round" fill="none" shape-rendering="crispEdges"/>
<path d="M304.5 244.7l15.5 8.8l0 17.6l-15.5 8.8l-15.5 -8.8l0 -17.6z" fill="#ff00ff" shape-rendering="crispEdges"/>
<text class="lg" transform="translate(399.9 286.2) scale(0.95 1)">SMG0.4</text>
<path d="M228 348 H380.8" stroke="#000" stroke-width="8" stroke-linecap="round" fill="none" shape-rendering="crispEdges"/>
<path d="M302.6 324.9l3.5 0l3.8 14.1l16.3 0.2l0 3l-12 9.1l4 14l-3.6 0.6l-10.3 -7.9l-10.3 7.9l-3.6 -0.6l4 -14l-12 -9.1l0 -3l16.3 -0.2z" fill="#ff8000" shape-rendering="crispEdges"/>
<text class="lg" transform="translate(399.9 372) scale(0.95 1)">SMG0.6</text>
</svg></body></html>
